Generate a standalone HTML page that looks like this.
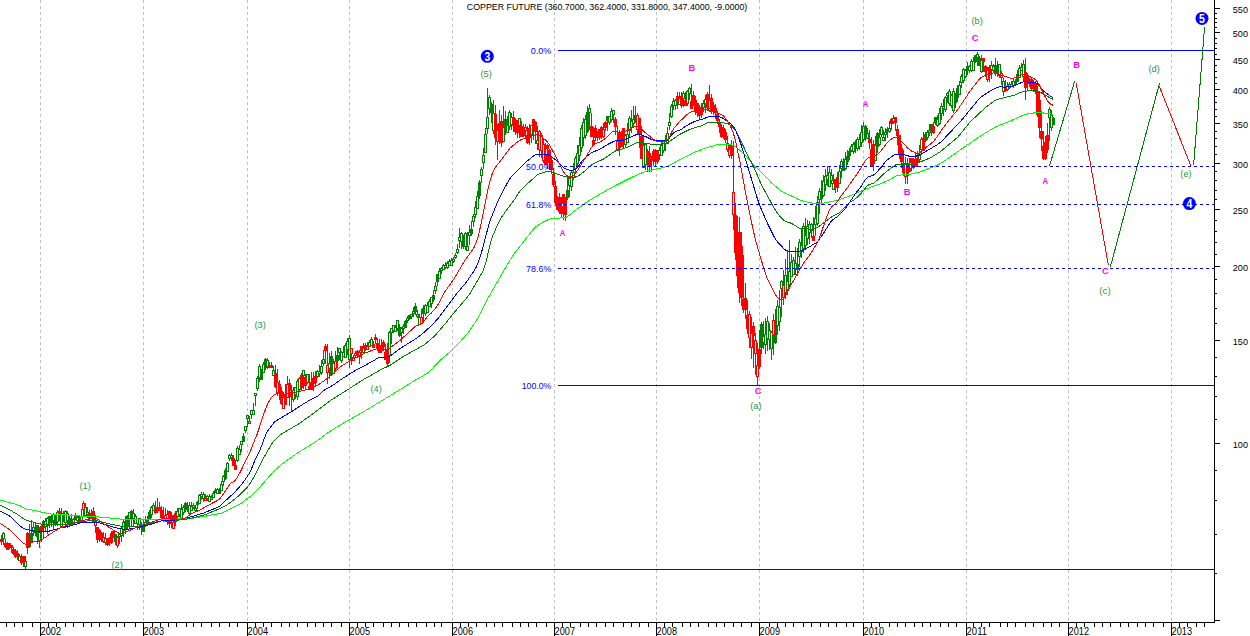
<!DOCTYPE html>
<html><head><meta charset="utf-8"><style>
html,body{margin:0;padding:0;background:#fff;width:1250px;height:636px;overflow:hidden}
svg{display:block}
text{font-family:"Liberation Sans",sans-serif}
</style></head><body>
<svg width="1250" height="636" viewBox="0 0 1250 636">
<rect width="1250" height="636" fill="#fff"/>

<path d="M40.5 0V622 M143.5 0V622 M247.5 0V622 M349.5 0V622 M452.5 0V622 M554.5 0V622 M656.5 0V622 M759.5 0V622 M863.5 0V622 M966.5 0V622 M1068.5 0V622 M1171.5 0V622" stroke="#c0c0c0" stroke-width="1" stroke-dasharray="3 3" fill="none" shape-rendering="crispEdges"/>
<g shape-rendering="crispEdges"><path d="M3.5 532V533M3.5 538V545M19.5 554V556M19.5 560V560M25.5 556V561M25.5 566V569M29.5 524V548M31.5 520V543M33.5 523V527M33.5 531V536M35.5 522V536M37.5 525V544M39.5 527V532M39.5 540V548M43.5 520V538M45.5 518V521M45.5 526V532M47.5 517V518M47.5 525V534M49.5 516V528M51.5 514V527M53.5 513V514M53.5 520V529M55.5 514V526M57.5 510V512M57.5 521V526M61.5 508V513M61.5 526V526M63.5 511V522M65.5 510V511M65.5 522V528M67.5 511V513M67.5 520V528M69.5 516V526M71.5 514V525M73.5 518V519M73.5 523V525M75.5 513V520M77.5 516V517M77.5 520V524M79.5 515V522M81.5 509V516M81.5 521V522M85.5 503V507M85.5 515V517M87.5 507V512M87.5 514V518M105.5 533V538M105.5 542V545M115.5 534V545M119.5 533V534M119.5 536V544M121.5 526V528M121.5 535V542M123.5 520V522M123.5 530V537M125.5 516V534M127.5 515V529M129.5 512V512M129.5 518V528M131.5 510V526M133.5 509V513M133.5 518V526M135.5 514V516M135.5 523V523M137.5 519V519M137.5 523V530M139.5 518V518M139.5 524V530M143.5 520V532M145.5 516V522M145.5 524V527M147.5 516V525M149.5 510V519M151.5 506V507M151.5 514V518M153.5 503V505M153.5 510V511M165.5 508V515M165.5 519V522M177.5 508V511M177.5 516V520M179.5 508V508M179.5 514V517M181.5 504V509M181.5 518V518M183.5 505V507M183.5 512V515M185.5 502V512M187.5 502V512M189.5 502V505M189.5 513V514M191.5 502V506M191.5 510V511M193.5 503V505M193.5 507V509M195.5 505V508M195.5 510V511M197.5 501V509M199.5 494V495M199.5 503V504M201.5 492V494M201.5 496V500M203.5 492V494M203.5 498V502M207.5 495V496M207.5 498V501M209.5 494V496M209.5 501V502M211.5 495V497M211.5 499V500M213.5 491V493M213.5 497V497M215.5 488V492M217.5 488V489M217.5 493V494M219.5 488V491M219.5 493V492M221.5 481V484M221.5 490V491M223.5 475V476M223.5 481V486M225.5 468V480M227.5 462V463M227.5 471V472M229.5 454V455M229.5 458V461M231.5 453V455M231.5 457V461M237.5 446V448M237.5 460V462M239.5 445V449M239.5 454V454M241.5 441V441M241.5 444V452M243.5 433V441M245.5 426V426M245.5 430V433M247.5 415V415M247.5 418V427M249.5 416V421M249.5 423V423M251.5 410V410M251.5 414V419M253.5 403V410M253.5 414V414M255.5 393V393M255.5 395V406M257.5 376V378M257.5 388V391M259.5 364V366M259.5 377V382M261.5 369V380M263.5 362V364M263.5 372V372M265.5 358V370M267.5 358V360M267.5 366V369M271.5 362V367M273.5 366V370M273.5 375V376M293.5 387V390M293.5 399V402M295.5 387V387M295.5 394V399M297.5 379V381M297.5 396V400M299.5 377V378M299.5 389V392M303.5 370V370M303.5 375V389M307.5 374V374M307.5 382V384M317.5 370V371M317.5 376V378M319.5 365V371M319.5 373V377M321.5 360V366M321.5 372V375M323.5 350V359M323.5 363V366M329.5 353V363M329.5 368V379M331.5 351V376M333.5 359V363M333.5 373V374M337.5 347V368M339.5 348V348M339.5 352V360M341.5 351V352M341.5 360V363M343.5 346V352M343.5 356V357M345.5 343V345M345.5 357V358M347.5 338V341M347.5 349V355M349.5 335V338M349.5 359V368M363.5 343V348M363.5 352V353M369.5 340V342M369.5 346V347M371.5 337V339M371.5 345V345M389.5 331V332M389.5 355V363M391.5 328V328M391.5 332V344M393.5 325V325M393.5 330V333M395.5 325V327M395.5 331V332M397.5 320V320M397.5 328V331M399.5 324V337M401.5 327V328M401.5 332V343M403.5 324V326M403.5 328V334M405.5 320V328M407.5 316V318M407.5 320V323M409.5 315V320M411.5 314V314M411.5 316V319M413.5 307V311M413.5 313V317M415.5 303V315M417.5 310V314M417.5 316V318M419.5 314V317M419.5 324V325M423.5 305V323M425.5 304V305M425.5 313V316M427.5 302V305M427.5 312V313M429.5 299V301M429.5 306V307M431.5 297V297M431.5 303V308M433.5 290V302M435.5 282V286M435.5 290V294M437.5 274V286M439.5 268V271M439.5 278V279M441.5 267V268M441.5 270V274M443.5 264V265M443.5 269V269M445.5 262V265M445.5 267V269M447.5 261V263M447.5 267V269M449.5 259V261M449.5 265V265M451.5 258V260M451.5 265V266M453.5 257V259M453.5 261V263M455.5 253V255M455.5 257V259M457.5 244V249M457.5 252V254M459.5 228V237M459.5 240V248M461.5 232V233M461.5 241V249M463.5 235V249M465.5 232V233M465.5 246V250M467.5 232V246M467.5 250V250M469.5 225V232M469.5 235V245M471.5 221V236M473.5 214V216M473.5 221V227M475.5 201V207M475.5 214V218M477.5 191V196M477.5 208V209M479.5 180V199M481.5 167V169M481.5 175V183M483.5 148V155M483.5 162V169M485.5 128V134M485.5 152V153M487.5 88V117M487.5 128V134M489.5 95V97M489.5 108V115M491.5 102V123M493.5 100V113M493.5 130V134M503.5 106V127M503.5 141V142M505.5 111V135M507.5 116V125M507.5 132V133M509.5 110V112M509.5 126V130M511.5 113V117M511.5 124V130M519.5 118V118M519.5 125V138M531.5 125V125M531.5 134V143M537.5 126V140M537.5 143V150M567.5 176V200M569.5 177V178M569.5 185V197M571.5 170V172M571.5 186V191M573.5 163V172M573.5 177V180M575.5 156V158M575.5 168V173M577.5 145V153M577.5 163V168M579.5 137V145M579.5 155V161M581.5 125V128M581.5 147V152M583.5 118V122M583.5 137V146M585.5 115V119M585.5 135V139M587.5 106V133M589.5 104V108M589.5 112V130M607.5 116V131M609.5 116V116M609.5 122V125M611.5 108V111M611.5 119V122M613.5 110V110M613.5 114V123M625.5 134V135M625.5 144V147M627.5 123V134M627.5 142V143M629.5 116V118M629.5 130V137M631.5 110V121M631.5 127V133M633.5 106V119M633.5 123V128M635.5 106V123M643.5 136V145M643.5 167V167M645.5 143V144M645.5 164V170M659.5 147V150M659.5 154V160M661.5 140V145M661.5 155V156M663.5 140V141M663.5 150V153M665.5 135V140M665.5 143V151M667.5 127V133M667.5 143V143M669.5 113V122M669.5 125V130M671.5 104V106M671.5 116V118M673.5 98V101M673.5 105V110M675.5 99V100M675.5 105V110M679.5 92V98M679.5 104V105M683.5 91V93M683.5 98V107M687.5 90V91M687.5 103V106M689.5 87V88M689.5 93V100M703.5 100V103M703.5 107V112M705.5 95V99M705.5 103V113M709.5 85V100M709.5 110V112M761.5 322V354M763.5 321V336M763.5 342V349M765.5 318V334M765.5 344V354M767.5 316V321M767.5 338V351M769.5 323V330M769.5 339V350M771.5 331V332M771.5 348V360M775.5 309V344M777.5 300V306M777.5 325V335M779.5 290V307M779.5 321V331M781.5 280V281M781.5 288V317M785.5 259V275M785.5 292V299M787.5 250V281M787.5 289V295M789.5 240V271M789.5 284V287M791.5 254V262M791.5 276V277M793.5 257V260M793.5 274V275M795.5 247V263M795.5 268V275M797.5 248V276M799.5 239V242M799.5 256V267M801.5 229V245M801.5 251V258M803.5 223V226M803.5 248V253M805.5 218V235M805.5 245V249M807.5 220V226M807.5 238V245M809.5 221V224M809.5 232V244M811.5 223V224M811.5 230V238M815.5 206V218M815.5 224V236M817.5 196V202M817.5 223V226M819.5 188V191M819.5 199V214M821.5 180V205M823.5 175V181M823.5 195V197M825.5 169V176M825.5 184V191M827.5 166V175M827.5 179V186M829.5 166V172M829.5 186V186M831.5 169V175M831.5 180V184M833.5 174V183M833.5 189V190M839.5 165V171M839.5 183V184M841.5 159V161M841.5 168V178M843.5 158V171M845.5 152V159M845.5 168V170M847.5 150V165M849.5 148V160M851.5 144V146M851.5 150V152M853.5 142V144M853.5 151V154M855.5 140V153M857.5 137V139M857.5 148V151M859.5 134V139M859.5 146V150M861.5 125V132M861.5 142V147M863.5 122V126M863.5 139V142M865.5 125V141M867.5 128V133M867.5 138V139M875.5 136V145M875.5 160V161M877.5 132V153M879.5 129V137M879.5 144V146M881.5 126V127M881.5 134V137M883.5 130V137M883.5 140V141M885.5 128V132M885.5 134V141M887.5 127V138M889.5 121V128M889.5 131V133M893.5 115V118M893.5 121V124M919.5 145V154M919.5 159V163M921.5 137V139M921.5 149V155M925.5 132V142M927.5 130V132M927.5 137V140M929.5 124V130M929.5 132V136M931.5 124V136M935.5 117V125M937.5 115V119M937.5 125V127M939.5 108V113M939.5 123V125M941.5 103V106M941.5 113V120M943.5 99V106M943.5 108V116M945.5 96V97M945.5 109V112M947.5 92V93M947.5 95V103M949.5 89V91M949.5 103V106M951.5 94V95M951.5 105V108M953.5 88V91M953.5 110V113M955.5 93V108M957.5 85V102M959.5 81V85M959.5 94V95M961.5 74V76M961.5 82V88M963.5 68V69M963.5 80V83M965.5 69V70M965.5 76V78M967.5 62V75M969.5 65V66M969.5 70V73M971.5 59V61M971.5 70V72M973.5 57V61M973.5 70V70M975.5 55V63M977.5 52V54M977.5 57V66M979.5 56V65M981.5 55V60M981.5 71V73M991.5 61V65M991.5 69V79M993.5 64V66M993.5 70V73M995.5 58V76M997.5 61V77M999.5 64V64M999.5 75V78M1003.5 78V81M1003.5 91V96M1007.5 82V86M1007.5 89V91M1009.5 82V84M1009.5 87V89M1011.5 81V84M1011.5 86V87M1013.5 79V81M1013.5 85V88M1015.5 79V86M1017.5 70V82M1019.5 65V68M1019.5 77V78M1021.5 63V67M1021.5 70V71M1023.5 60V64M1023.5 76V81M1049.5 107V109M1049.5 117V141M1051.5 110V115M1051.5 127V131M1053.5 117V124M2.5 533.5h2v5h-2zM18.5 556.5h2v4h-2zM24.5 561.5h2v5h-2zM32.5 527.5h2v4h-2zM38.5 532.5h2v8h-2zM44.5 521.5h2v5h-2zM46.5 518.5h2v7h-2zM52.5 514.5h2v6h-2zM56.5 512.5h2v9h-2zM60.5 513.5h2v13h-2zM64.5 511.5h2v11h-2zM66.5 513.5h2v7h-2zM72.5 519.5h2v4h-2zM76.5 517.5h2v3h-2zM80.5 516.5h2v5h-2zM84.5 507.5h2v8h-2zM86.5 512.5h2v2h-2zM104.5 538.5h2v4h-2zM118.5 534.5h2v2h-2zM120.5 528.5h2v7h-2zM122.5 522.5h2v8h-2zM128.5 512.5h2v6h-2zM132.5 513.5h2v5h-2zM134.5 516.5h2v7h-2zM136.5 519.5h2v4h-2zM138.5 518.5h2v6h-2zM144.5 522.5h2v2h-2zM150.5 507.5h2v7h-2zM152.5 505.5h2v5h-2zM164.5 515.5h2v4h-2zM176.5 511.5h2v5h-2zM178.5 508.5h2v6h-2zM180.5 509.5h2v9h-2zM182.5 507.5h2v5h-2zM188.5 505.5h2v8h-2zM190.5 506.5h2v4h-2zM192.5 505.5h2v2h-2zM194.5 508.5h2v2h-2zM198.5 495.5h2v8h-2zM200.5 494.5h2v2h-2zM202.5 494.5h2v4h-2zM206.5 496.5h2v2h-2zM208.5 496.5h2v5h-2zM210.5 497.5h2v2h-2zM212.5 493.5h2v4h-2zM216.5 489.5h2v4h-2zM218.5 491.5h2v2h-2zM220.5 484.5h2v6h-2zM222.5 476.5h2v5h-2zM226.5 463.5h2v8h-2zM228.5 455.5h2v3h-2zM230.5 455.5h2v2h-2zM236.5 448.5h2v12h-2zM238.5 449.5h2v5h-2zM240.5 441.5h2v3h-2zM244.5 426.5h2v4h-2zM246.5 415.5h2v3h-2zM248.5 421.5h2v2h-2zM250.5 410.5h2v4h-2zM252.5 410.5h2v4h-2zM254.5 393.5h2v2h-2zM256.5 378.5h2v10h-2zM258.5 366.5h2v11h-2zM262.5 364.5h2v8h-2zM266.5 360.5h2v6h-2zM272.5 370.5h2v5h-2zM292.5 390.5h2v9h-2zM294.5 387.5h2v7h-2zM296.5 381.5h2v15h-2zM298.5 378.5h2v11h-2zM302.5 370.5h2v5h-2zM306.5 374.5h2v8h-2zM316.5 371.5h2v5h-2zM318.5 371.5h2v2h-2zM320.5 366.5h2v6h-2zM322.5 359.5h2v4h-2zM328.5 363.5h2v5h-2zM332.5 363.5h2v10h-2zM338.5 348.5h2v4h-2zM340.5 352.5h2v8h-2zM342.5 352.5h2v4h-2zM344.5 345.5h2v12h-2zM346.5 341.5h2v8h-2zM348.5 338.5h2v21h-2zM362.5 348.5h2v4h-2zM368.5 342.5h2v4h-2zM370.5 339.5h2v6h-2zM388.5 332.5h2v23h-2zM390.5 328.5h2v4h-2zM392.5 325.5h2v5h-2zM394.5 327.5h2v4h-2zM396.5 320.5h2v8h-2zM400.5 328.5h2v4h-2zM402.5 326.5h2v2h-2zM406.5 318.5h2v2h-2zM410.5 314.5h2v2h-2zM412.5 311.5h2v2h-2zM416.5 314.5h2v2h-2zM418.5 317.5h2v7h-2zM424.5 305.5h2v8h-2zM426.5 305.5h2v7h-2zM428.5 301.5h2v5h-2zM430.5 297.5h2v6h-2zM434.5 286.5h2v4h-2zM438.5 271.5h2v7h-2zM440.5 268.5h2v2h-2zM442.5 265.5h2v4h-2zM444.5 265.5h2v2h-2zM446.5 263.5h2v4h-2zM448.5 261.5h2v4h-2zM450.5 260.5h2v5h-2zM452.5 259.5h2v2h-2zM454.5 255.5h2v2h-2zM456.5 249.5h2v3h-2zM458.5 237.5h2v3h-2zM460.5 233.5h2v8h-2zM464.5 233.5h2v13h-2zM466.5 246.5h2v4h-2zM468.5 232.5h2v3h-2zM472.5 216.5h2v5h-2zM474.5 207.5h2v7h-2zM476.5 196.5h2v12h-2zM480.5 169.5h2v6h-2zM482.5 155.5h2v7h-2zM484.5 134.5h2v18h-2zM486.5 117.5h2v11h-2zM488.5 97.5h2v11h-2zM492.5 113.5h2v17h-2zM502.5 127.5h2v14h-2zM506.5 125.5h2v7h-2zM508.5 112.5h2v14h-2zM510.5 117.5h2v7h-2zM518.5 118.5h2v7h-2zM530.5 125.5h2v9h-2zM536.5 140.5h2v3h-2zM568.5 178.5h2v7h-2zM570.5 172.5h2v14h-2zM572.5 172.5h2v5h-2zM574.5 158.5h2v10h-2zM576.5 153.5h2v10h-2zM578.5 145.5h2v10h-2zM580.5 128.5h2v19h-2zM582.5 122.5h2v15h-2zM584.5 119.5h2v16h-2zM588.5 108.5h2v4h-2zM608.5 116.5h2v6h-2zM610.5 111.5h2v8h-2zM612.5 110.5h2v4h-2zM624.5 135.5h2v9h-2zM626.5 134.5h2v8h-2zM628.5 118.5h2v12h-2zM630.5 121.5h2v6h-2zM632.5 119.5h2v4h-2zM642.5 145.5h2v22h-2zM644.5 144.5h2v20h-2zM658.5 150.5h2v4h-2zM660.5 145.5h2v10h-2zM662.5 141.5h2v9h-2zM664.5 140.5h2v3h-2zM666.5 133.5h2v10h-2zM668.5 122.5h2v3h-2zM670.5 106.5h2v10h-2zM672.5 101.5h2v4h-2zM674.5 100.5h2v5h-2zM678.5 98.5h2v6h-2zM682.5 93.5h2v5h-2zM686.5 91.5h2v12h-2zM688.5 88.5h2v5h-2zM702.5 103.5h2v4h-2zM704.5 99.5h2v4h-2zM708.5 100.5h2v10h-2zM762.5 336.5h2v6h-2zM764.5 334.5h2v10h-2zM766.5 321.5h2v17h-2zM768.5 330.5h2v9h-2zM770.5 332.5h2v16h-2zM776.5 306.5h2v19h-2zM778.5 307.5h2v14h-2zM780.5 281.5h2v7h-2zM784.5 275.5h2v17h-2zM786.5 281.5h2v8h-2zM788.5 271.5h2v13h-2zM790.5 262.5h2v14h-2zM792.5 260.5h2v14h-2zM794.5 263.5h2v5h-2zM798.5 242.5h2v14h-2zM800.5 245.5h2v6h-2zM802.5 226.5h2v22h-2zM804.5 235.5h2v10h-2zM806.5 226.5h2v12h-2zM808.5 224.5h2v8h-2zM810.5 224.5h2v6h-2zM814.5 218.5h2v6h-2zM816.5 202.5h2v21h-2zM818.5 191.5h2v8h-2zM822.5 181.5h2v14h-2zM824.5 176.5h2v8h-2zM826.5 175.5h2v4h-2zM828.5 172.5h2v14h-2zM830.5 175.5h2v5h-2zM832.5 183.5h2v6h-2zM838.5 171.5h2v12h-2zM840.5 161.5h2v7h-2zM844.5 159.5h2v9h-2zM850.5 146.5h2v4h-2zM852.5 144.5h2v7h-2zM856.5 139.5h2v9h-2zM858.5 139.5h2v7h-2zM860.5 132.5h2v10h-2zM862.5 126.5h2v13h-2zM866.5 133.5h2v5h-2zM874.5 145.5h2v15h-2zM878.5 137.5h2v7h-2zM880.5 127.5h2v7h-2zM882.5 137.5h2v3h-2zM884.5 132.5h2v2h-2zM888.5 128.5h2v3h-2zM892.5 118.5h2v3h-2zM918.5 154.5h2v5h-2zM920.5 139.5h2v10h-2zM926.5 132.5h2v5h-2zM928.5 130.5h2v2h-2zM936.5 119.5h2v6h-2zM938.5 113.5h2v10h-2zM940.5 106.5h2v7h-2zM942.5 106.5h2v2h-2zM944.5 97.5h2v12h-2zM946.5 93.5h2v2h-2zM948.5 91.5h2v12h-2zM950.5 95.5h2v10h-2zM952.5 91.5h2v19h-2zM958.5 85.5h2v9h-2zM960.5 76.5h2v6h-2zM962.5 69.5h2v11h-2zM964.5 70.5h2v6h-2zM968.5 66.5h2v4h-2zM970.5 61.5h2v9h-2zM972.5 61.5h2v9h-2zM976.5 54.5h2v3h-2zM980.5 60.5h2v11h-2zM990.5 65.5h2v4h-2zM992.5 66.5h2v4h-2zM998.5 64.5h2v11h-2zM1002.5 81.5h2v10h-2zM1006.5 86.5h2v3h-2zM1008.5 84.5h2v3h-2zM1010.5 84.5h2v2h-2zM1012.5 81.5h2v4h-2zM1018.5 68.5h2v9h-2zM1020.5 67.5h2v3h-2zM1022.5 64.5h2v12h-2zM1048.5 109.5h2v8h-2zM1050.5 115.5h2v12h-2z" stroke="#008000" stroke-width="1" fill="none"/>
<path d="M28 535h3v12h-3zM30 533h3v9h-3zM34 527h3v6h-3zM36 525h3v12h-3zM42 521h3v7h-3zM48 516h3v4h-3zM50 520h3v3h-3zM54 521h3v4h-3zM62 516h3v4h-3zM68 518h3v5h-3zM70 521h3v4h-3zM74 515h3v5h-3zM78 516h3v3h-3zM114 534h3v8h-3zM124 521h3v9h-3zM126 516h3v11h-3zM130 511h3v5h-3zM142 524h3v8h-3zM146 519h3v6h-3zM148 512h3v7h-3zM184 503h3v7h-3zM186 505h3v3h-3zM196 502h3v3h-3zM214 490h3v3h-3zM224 470h3v9h-3zM242 436h3v6h-3zM260 371h3v9h-3zM264 359h3v9h-3zM270 365h3v3h-3zM330 356h3v19h-3zM336 355h3v6h-3zM398 327h3v9h-3zM404 321h3v7h-3zM408 315h3v4h-3zM414 306h3v6h-3zM422 308h3v6h-3zM432 295h3v5h-3zM436 274h3v8h-3zM462 240h3v7h-3zM470 229h3v5h-3zM478 182h3v14h-3zM490 104h3v9h-3zM504 119h3v13h-3zM566 190h3v8h-3zM586 112h3v20h-3zM606 116h3v5h-3zM634 115h3v7h-3zM760 324h3v24h-3zM774 321h3v22h-3zM796 264h3v6h-3zM820 192h3v7h-3zM842 161h3v10h-3zM846 156h3v6h-3zM848 151h3v5h-3zM854 142h3v4h-3zM864 126h3v10h-3zM876 133h3v14h-3zM886 129h3v3h-3zM924 134h3v7h-3zM930 124h3v6h-3zM934 117h3v6h-3zM954 96h3v7h-3zM956 88h3v10h-3zM966 66h3v5h-3zM974 55h3v7h-3zM978 58h3v8h-3zM994 65h3v9h-3zM996 65h3v7h-3zM1014 81h3v4h-3zM1016 74h3v8h-3zM1052 118h3v7h-3z" fill="#008000"/>
<path d="M1.5 535V545M5.5 539V548M7.5 542V550M9.5 543V549M11.5 545V553M13.5 547V555M15.5 549V558M17.5 550V560M21.5 554V565M23.5 556V567M27.5 532V554M41.5 524V542M59.5 508V521M83.5 501V503M83.5 509V516M89.5 510V519M91.5 509V519M93.5 507V522M95.5 515V521M95.5 525V533M97.5 527V543M99.5 529V542M101.5 532V542M103.5 532V537M103.5 541V543M107.5 538V546M109.5 537V546M111.5 531V544M113.5 530V538M117.5 536V537M117.5 545V548M141.5 522V535M155.5 501V514M157.5 498V513M159.5 502V511M161.5 506V519M163.5 507V522M167.5 510V514M167.5 521V525M169.5 511V528M171.5 512V528M173.5 515V522M173.5 528V528M175.5 511V526M205.5 494V498M205.5 500V500M233.5 455V466M235.5 460V470M269.5 362V368M275.5 365V388M277.5 369V382M277.5 392V396M279.5 380V400M281.5 387V405M283.5 392V397M283.5 408V408M285.5 384V404M287.5 376V384M287.5 397V397M289.5 379V406M291.5 385V411M301.5 373V391M305.5 374V390M309.5 374V390M311.5 372V390M313.5 372V391M315.5 371V387M325.5 344V364M327.5 344V365M327.5 372V384M335.5 351V361M335.5 368V371M351.5 348V348M351.5 353V365M353.5 355V357M353.5 360V360M355.5 351V353M355.5 355V358M357.5 350V358M359.5 350V352M359.5 356V364M361.5 346V359M365.5 343V351M367.5 342V346M367.5 349V349M373.5 341V348M375.5 334V344M377.5 338V351M379.5 339V352M381.5 339V353M383.5 340V351M385.5 344V360M387.5 343V367M421.5 309V317M421.5 323V324M495.5 105V145M497.5 124V130M497.5 141V160M499.5 110V144M501.5 115V147M513.5 111V132M515.5 118V135M517.5 120V138M521.5 121V137M523.5 124V137M525.5 124V127M525.5 130V139M527.5 126V144M529.5 124V145M533.5 119V140M535.5 121V144M539.5 130V131M539.5 149V157M541.5 133V135M541.5 150V158M543.5 138V144M543.5 160V163M545.5 143V165M547.5 144V169M549.5 149V170M551.5 157V174M553.5 168V187M555.5 181V206M557.5 196V210M559.5 193V214M561.5 197V217M563.5 194V220M565.5 197V221M591.5 113V137M593.5 127V145M595.5 125V141M597.5 131V141M599.5 129V140M601.5 126V139M603.5 123V129M603.5 136V138M605.5 121V131M615.5 117V135M617.5 126V141M617.5 149V151M619.5 130V156M621.5 131V146M623.5 128V148M637.5 113V115M637.5 129V134M639.5 118V148M641.5 126V159M647.5 149V172M649.5 146V172M651.5 156V172M653.5 149V166M655.5 149V167M657.5 150V164M677.5 92V109M681.5 92V108M685.5 92V106M691.5 84V109M693.5 91V106M695.5 96V115M697.5 103V117M699.5 105V119M701.5 103V118M707.5 92V111M711.5 94V114M713.5 102V115M715.5 104V119M717.5 111V124M719.5 119V133M721.5 124V138M723.5 125V139M725.5 129V143M727.5 136V143M727.5 149V152M729.5 145V149M729.5 155V158M731.5 140V159M733.5 141V192M733.5 214V230M735.5 203V260M737.5 216V288M739.5 217V303M741.5 232V306M743.5 255V313M745.5 283V319M747.5 300V334M749.5 311V314M749.5 337V348M751.5 317V333M751.5 347V359M753.5 322V368M755.5 333V340M755.5 353V375M757.5 343V365M757.5 376V385M759.5 330V369M773.5 314V320M773.5 334V355M783.5 270V285M783.5 297V305M813.5 217V240M835.5 179V193M837.5 172V192M869.5 130V149M871.5 137V167M873.5 140V171M891.5 118V130M895.5 117V131M897.5 125V145M899.5 135V159M901.5 144V168M903.5 150V176M905.5 157V163M905.5 176V184M907.5 158V184M909.5 158V172M911.5 158V171M913.5 158V169M915.5 152V166M917.5 151V167M923.5 132V150M933.5 122V134M983.5 58V72M985.5 65V77M987.5 67V70M987.5 79V82M989.5 65V82M1001.5 71V73M1001.5 77V85M1005.5 80V92M1025.5 58V100M1027.5 73V91M1029.5 78V87M1031.5 78V91M1033.5 80V92M1035.5 81V94M1037.5 86V117M1039.5 93V138M1041.5 111V151M1043.5 131V160M1045.5 136V160M1047.5 123V153M82.5 503.5h2v6h-2zM94.5 521.5h2v4h-2zM102.5 537.5h2v4h-2zM116.5 537.5h2v8h-2zM166.5 514.5h2v7h-2zM172.5 522.5h2v6h-2zM204.5 498.5h2v2h-2zM276.5 382.5h2v10h-2zM282.5 397.5h2v11h-2zM286.5 384.5h2v13h-2zM326.5 365.5h2v7h-2zM334.5 361.5h2v7h-2zM350.5 348.5h2v5h-2zM352.5 357.5h2v3h-2zM354.5 353.5h2v2h-2zM358.5 352.5h2v4h-2zM366.5 346.5h2v3h-2zM420.5 317.5h2v6h-2zM496.5 130.5h2v11h-2zM524.5 127.5h2v3h-2zM538.5 131.5h2v18h-2zM540.5 135.5h2v15h-2zM542.5 144.5h2v16h-2zM602.5 129.5h2v7h-2zM616.5 141.5h2v8h-2zM636.5 115.5h2v14h-2zM726.5 143.5h2v6h-2zM728.5 149.5h2v6h-2zM732.5 192.5h2v22h-2zM748.5 314.5h2v23h-2zM750.5 333.5h2v14h-2zM754.5 340.5h2v13h-2zM756.5 365.5h2v11h-2zM772.5 320.5h2v14h-2zM782.5 285.5h2v12h-2zM904.5 163.5h2v13h-2zM986.5 70.5h2v9h-2zM1000.5 73.5h2v4h-2z" stroke="#ff0000" fill="none"/><path d="M0 539h3v3h-3zM4 543h3v4h-3zM6 547h3v3h-3zM8 543h3v5h-3zM10 545h3v3h-3zM12 549h3v5h-3zM14 551h3v6h-3zM16 553h3v3h-3zM20 557h3v6h-3zM22 556h3v7h-3zM26 533h3v15h-3zM40 526h3v6h-3zM58 511h3v4h-3zM88 514h3v5h-3zM90 513h3v6h-3zM92 511h3v11h-3zM96 527h3v13h-3zM98 530h3v10h-3zM100 533h3v7h-3zM106 538h3v7h-3zM108 540h3v3h-3zM110 533h3v10h-3zM112 531h3v4h-3zM140 525h3v3h-3zM154 510h3v3h-3zM156 507h3v4h-3zM158 507h3v3h-3zM160 510h3v8h-3zM162 515h3v5h-3zM168 511h3v13h-3zM170 515h3v6h-3zM174 513h3v9h-3zM232 458h3v8h-3zM234 465h3v5h-3zM268 365h3v3h-3zM274 373h3v14h-3zM278 384h3v10h-3zM280 391h3v13h-3zM284 394h3v11h-3zM288 383h3v8h-3zM290 392h3v5h-3zM300 375h3v13h-3zM304 377h3v9h-3zM308 386h3v4h-3zM310 382h3v8h-3zM312 378h3v6h-3zM314 376h3v7h-3zM324 346h3v5h-3zM356 351h3v5h-3zM360 346h3v5h-3zM364 345h3v5h-3zM372 344h3v4h-3zM374 337h3v3h-3zM376 343h3v5h-3zM378 345h3v8h-3zM380 346h3v5h-3zM382 342h3v5h-3zM384 352h3v8h-3zM386 349h3v15h-3zM494 114h3v24h-3zM498 123h3v9h-3zM500 121h3v22h-3zM512 117h3v9h-3zM514 120h3v12h-3zM516 120h3v13h-3zM520 126h3v11h-3zM522 128h3v8h-3zM526 135h3v8h-3zM528 128h3v10h-3zM532 119h3v10h-3zM534 122h3v10h-3zM544 155h3v10h-3zM546 145h3v4h-3zM548 150h3v13h-3zM550 160h3v10h-3zM552 174h3v11h-3zM554 186h3v17h-3zM556 201h3v9h-3zM558 197h3v15h-3zM560 206h3v8h-3zM562 194h3v10h-3zM564 197h3v18h-3zM590 126h3v11h-3zM592 140h3v5h-3zM594 128h3v10h-3zM596 131h3v4h-3zM598 129h3v9h-3zM600 127h3v4h-3zM604 122h3v6h-3zM614 119h3v8h-3zM618 132h3v16h-3zM620 140h3v7h-3zM622 128h3v15h-3zM638 118h3v17h-3zM640 136h3v23h-3zM646 151h3v5h-3zM648 153h3v14h-3zM650 158h3v3h-3zM652 151h3v7h-3zM654 150h3v12h-3zM656 152h3v10h-3zM676 96h3v5h-3zM680 96h3v10h-3zM684 100h3v6h-3zM690 101h3v8h-3zM692 95h3v9h-3zM694 100h3v12h-3zM696 103h3v10h-3zM698 108h3v8h-3zM700 107h3v8h-3zM706 94h3v14h-3zM710 98h3v14h-3zM712 105h3v6h-3zM714 108h3v5h-3zM716 114h3v7h-3zM718 122h3v5h-3zM720 127h3v10h-3zM722 128h3v5h-3zM724 132h3v8h-3zM730 145h3v11h-3zM734 215h3v38h-3zM736 250h3v26h-3zM738 232h3v61h-3zM740 246h3v52h-3zM742 299h3v11h-3zM744 298h3v12h-3zM746 315h3v14h-3zM752 326h3v10h-3zM758 349h3v18h-3zM812 236h3v5h-3zM834 179h3v9h-3zM836 177h3v11h-3zM868 139h3v4h-3zM870 149h3v17h-3zM872 144h3v20h-3zM890 119h3v5h-3zM894 117h3v6h-3zM896 129h3v7h-3zM898 135h3v19h-3zM900 148h3v14h-3zM902 163h3v10h-3zM906 163h3v13h-3zM908 168h3v4h-3zM910 158h3v5h-3zM912 159h3v9h-3zM914 159h3v8h-3zM916 158h3v4h-3zM922 138h3v13h-3zM932 126h3v7h-3zM982 58h3v4h-3zM984 66h3v6h-3zM988 67h3v8h-3zM1004 88h3v3h-3zM1024 72h3v16h-3zM1026 76h3v4h-3zM1028 80h3v4h-3zM1030 79h3v10h-3zM1032 84h3v4h-3zM1034 83h3v9h-3zM1036 92h3v23h-3zM1038 100h3v28h-3zM1040 131h3v8h-3zM1042 146h3v13h-3zM1044 142h3v17h-3zM1046 135h3v15h-3z" fill="#ff0000"/></g>
<path d="M0.0 500.0 L1.0 500.4 L2.0 500.6 L3.0 500.8 L4.0 501.1 L5.0 501.4 L6.0 501.6 L7.0 501.9 L8.0 502.2 L9.0 502.5 L10.0 502.8 L11.0 503.0 L12.0 503.3 L13.0 503.6 L14.0 503.9 L15.0 504.1 L16.0 504.4 L17.0 504.7 L18.0 504.9 L19.0 505.3 L20.0 505.7 L21.0 506.2 L22.0 506.8 L23.0 507.4 L24.0 508.1 L25.0 508.6 L26.0 509.1 L27.0 509.4 L28.0 509.6 L29.0 509.7 L30.0 509.8 L31.0 509.9 L32.0 510.0 L33.0 510.1 L34.0 510.3 L35.0 510.5 L36.0 510.7 L37.0 511.0 L38.0 511.3 L39.0 511.5 L40.0 511.8 L41.0 512.0 L42.0 512.2 L43.0 512.4 L44.0 512.6 L45.0 512.8 L46.0 513.0 L47.0 513.2 L48.0 513.4 L49.0 513.6 L50.0 513.8 L51.0 514.0 L52.0 514.1 L53.0 514.2 L54.0 514.3 L55.0 514.3 L56.0 514.4 L57.0 514.4 L58.0 514.5 L59.0 514.5 L60.0 514.5 L61.0 514.6 L62.0 514.6 L63.0 514.7 L64.0 514.7 L65.0 514.8 L66.0 514.8 L67.0 514.9 L68.0 515.0 L69.0 515.1 L70.0 515.1 L71.0 515.2 L72.0 515.3 L73.0 515.4 L74.0 515.5 L75.0 515.6 L76.0 515.7 L77.0 515.7 L78.0 515.8 L79.0 515.9 L80.0 516.0 L81.0 516.0 L82.0 516.1 L83.0 516.1 L84.0 516.2 L85.0 516.2 L86.0 516.3 L87.0 516.4 L88.0 516.4 L89.0 516.5 L90.0 516.5 L91.0 516.5 L92.0 516.6 L93.0 516.6 L94.0 516.7 L95.0 516.8 L96.0 516.8 L97.0 516.9 L98.0 516.9 L99.0 517.0 L100.0 517.0 L101.0 517.1 L102.0 517.2 L103.0 517.3 L104.0 517.4 L105.0 517.5 L106.0 517.6 L107.0 517.7 L108.0 517.8 L109.0 517.9 L110.0 518.0 L111.0 518.1 L112.0 518.2 L113.0 518.3 L114.0 518.4 L115.0 518.5 L116.0 518.6 L117.0 518.7 L118.0 518.8 L119.0 518.9 L120.0 519.0 L121.0 519.0 L122.0 519.1 L123.0 519.1 L124.0 519.2 L125.0 519.2 L126.0 519.3 L127.0 519.4 L128.0 519.4 L129.0 519.5 L130.0 519.5 L131.0 519.5 L132.0 519.6 L133.0 519.6 L134.0 519.7 L135.0 519.8 L136.0 519.8 L137.0 519.9 L138.0 519.9 L139.0 519.9 L140.0 519.9 L141.0 519.9 L142.0 519.9 L143.0 519.9 L144.0 519.8 L145.0 519.8 L146.0 519.7 L147.0 519.6 L148.0 519.6 L149.0 519.5 L150.0 519.5 L151.0 519.5 L152.0 519.4 L153.0 519.4 L154.0 519.3 L155.0 519.2 L156.0 519.2 L157.0 519.1 L158.0 519.1 L159.0 519.1 L160.0 519.0 L161.0 519.0 L162.0 519.0 L163.0 519.0 L164.0 519.0 L165.0 519.0 L166.0 519.0 L167.0 519.0 L168.0 519.0 L169.0 519.0 L170.0 519.0 L171.0 519.0 L172.0 519.0 L173.0 519.0 L174.0 519.0 L175.0 519.0 L176.0 519.0 L177.0 519.0 L178.0 518.9 L179.0 518.9 L180.0 518.9 L181.0 518.8 L182.0 518.8 L183.0 518.8 L184.0 518.7 L185.0 518.7 L186.0 518.6 L187.0 518.6 L188.0 518.6 L189.0 518.5 L190.0 518.4 L191.0 518.3 L192.0 518.2 L193.0 518.1 L194.0 517.9 L195.0 517.8 L196.0 517.6 L197.0 517.5 L198.0 517.3 L199.0 517.2 L200.0 517.0 L201.0 516.9 L202.0 516.7 L203.0 516.6 L204.0 516.4 L205.0 516.2 L206.0 516.1 L207.0 515.9 L208.0 515.7 L209.0 515.5 L210.0 515.3 L211.0 515.1 L212.0 514.9 L213.0 514.7 L214.0 514.5 L215.0 514.3 L216.0 514.1 L217.0 514.0 L218.0 513.8 L219.0 513.6 L220.0 513.4 L221.0 513.2 L222.0 512.9 L223.0 512.5 L224.0 512.1 L225.0 511.6 L226.0 511.1 L227.0 510.6 L228.0 510.1 L229.0 509.6 L230.0 509.1 L231.0 508.6 L232.0 508.1 L233.0 507.6 L234.0 507.1 L235.0 506.6 L236.0 506.1 L237.0 505.6 L238.0 505.1 L239.0 504.6 L240.0 504.1 L241.0 503.4 L242.0 502.7 L243.0 501.9 L244.0 501.0 L245.0 500.1 L246.0 499.4 L247.0 498.7 L248.0 498.0 L249.0 497.4 L250.0 496.7 L251.0 495.9 L252.0 495.0 L253.0 494.0 L254.0 493.0 L255.0 492.0 L256.0 491.0 L257.0 490.0 L258.0 489.0 L259.0 488.0 L260.0 486.9 L261.0 485.8 L262.0 484.7 L263.0 483.6 L264.0 482.4 L265.0 481.3 L266.0 480.2 L267.0 479.0 L268.0 477.9 L269.0 476.7 L270.0 475.6 L271.0 474.4 L272.0 473.3 L273.0 472.2 L274.0 471.1 L275.0 470.1 L276.0 469.1 L277.0 468.3 L278.0 467.4 L279.0 466.6 L280.0 465.8 L281.0 465.0 L282.0 464.1 L283.0 463.3 L284.0 462.6 L285.0 461.8 L286.0 461.1 L287.0 460.4 L288.0 459.7 L289.0 459.0 L290.0 458.3 L291.0 457.6 L292.0 456.9 L293.0 456.2 L294.0 455.5 L295.0 454.8 L296.0 454.1 L297.0 453.4 L298.0 452.7 L299.0 452.1 L300.0 451.4 L301.0 450.8 L302.0 450.2 L303.0 449.6 L304.0 449.0 L305.0 448.4 L306.0 447.7 L307.0 447.1 L308.0 446.5 L309.0 445.9 L310.0 445.3 L311.0 444.7 L312.0 444.1 L313.0 443.5 L314.0 442.9 L315.0 442.2 L316.0 441.5 L317.0 440.8 L318.0 440.1 L319.0 439.3 L320.0 438.6 L321.0 437.8 L322.0 437.1 L323.0 436.3 L324.0 435.6 L325.0 434.8 L326.0 434.1 L327.0 433.4 L328.0 432.7 L329.0 432.0 L330.0 431.4 L331.0 430.7 L332.0 430.1 L333.0 429.5 L334.0 428.8 L335.0 428.2 L336.0 427.5 L337.0 426.9 L338.0 426.3 L339.0 425.7 L340.0 425.0 L341.0 424.5 L342.0 423.9 L343.0 423.3 L344.0 422.8 L345.0 422.2 L346.0 421.6 L347.0 421.1 L348.0 420.5 L349.0 420.0 L350.0 419.4 L351.0 418.8 L352.0 418.3 L353.0 417.7 L354.0 417.1 L355.0 416.6 L356.0 416.0 L357.0 415.5 L358.0 414.9 L359.0 414.3 L360.0 413.8 L361.0 413.2 L362.0 412.6 L363.0 412.0 L364.0 411.4 L365.0 410.8 L366.0 410.2 L367.0 409.6 L368.0 409.0 L369.0 408.4 L370.0 407.8 L371.0 407.2 L372.0 406.6 L373.0 406.0 L374.0 405.4 L375.0 404.8 L376.0 404.2 L377.0 403.6 L378.0 403.0 L379.0 402.4 L380.0 401.8 L381.0 401.2 L382.0 400.6 L383.0 400.0 L384.0 399.4 L385.0 398.8 L386.0 398.2 L387.0 397.6 L388.0 397.0 L389.0 396.4 L390.0 395.8 L391.0 395.2 L392.0 394.6 L393.0 394.0 L394.0 393.3 L395.0 392.7 L396.0 392.1 L397.0 391.5 L398.0 390.9 L399.0 390.2 L400.0 389.6 L401.0 389.0 L402.0 388.4 L403.0 387.8 L404.0 387.1 L405.0 386.5 L406.0 385.9 L407.0 385.3 L408.0 384.7 L409.0 384.0 L410.0 383.4 L411.0 382.8 L412.0 382.2 L413.0 381.6 L414.0 380.9 L415.0 380.3 L416.0 379.7 L417.0 379.2 L418.0 378.6 L419.0 378.0 L420.0 377.5 L421.0 376.9 L422.0 376.4 L423.0 375.8 L424.0 375.2 L425.0 374.7 L426.0 374.1 L427.0 373.5 L428.0 372.7 L429.0 371.9 L430.0 370.9 L431.0 369.9 L432.0 368.8 L433.0 367.8 L434.0 366.7 L435.0 365.6 L436.0 364.6 L437.0 363.6 L438.0 362.5 L439.0 361.5 L440.0 360.5 L441.0 359.6 L442.0 358.7 L443.0 357.9 L444.0 357.0 L445.0 356.2 L446.0 355.4 L447.0 354.5 L448.0 353.7 L449.0 352.8 L450.0 351.9 L451.0 351.0 L452.0 350.1 L453.0 349.1 L454.0 348.2 L455.0 347.2 L456.0 346.2 L457.0 345.2 L458.0 344.1 L459.0 343.1 L460.0 341.9 L461.0 340.8 L462.0 339.6 L463.0 338.5 L464.0 337.4 L465.0 336.2 L466.0 335.1 L467.0 333.9 L468.0 332.7 L469.0 331.4 L470.0 330.0 L471.0 328.6 L472.0 327.1 L473.0 325.6 L474.0 324.1 L475.0 322.7 L476.0 321.1 L477.0 319.5 L478.0 317.8 L479.0 316.0 L480.0 314.1 L481.0 312.1 L482.0 310.1 L483.0 308.0 L484.0 306.0 L485.0 304.0 L486.0 302.1 L487.0 300.2 L488.0 298.3 L489.0 296.5 L490.0 294.8 L491.0 293.0 L492.0 291.3 L493.0 289.5 L494.0 287.8 L495.0 286.0 L496.0 284.3 L497.0 282.5 L498.0 280.8 L499.0 279.0 L500.0 277.3 L501.0 275.5 L502.0 273.8 L503.0 272.0 L504.0 270.3 L505.0 268.5 L506.0 266.9 L507.0 265.2 L508.0 263.6 L509.0 262.0 L510.0 260.3 L511.0 258.7 L512.0 257.1 L513.0 255.5 L514.0 254.0 L515.0 252.6 L516.0 251.3 L517.0 250.0 L518.0 248.7 L519.0 247.5 L520.0 246.2 L521.0 245.0 L522.0 243.7 L523.0 242.5 L524.0 241.2 L525.0 239.9 L526.0 238.6 L527.0 237.3 L528.0 236.0 L529.0 234.7 L530.0 233.4 L531.0 232.1 L532.0 230.8 L533.0 229.5 L534.0 228.4 L535.0 227.5 L536.0 226.6 L537.0 225.9 L538.0 225.3 L539.0 224.7 L540.0 224.1 L541.0 223.5 L542.0 222.9 L543.0 222.3 L544.0 221.8 L545.0 221.2 L546.0 220.7 L547.0 220.2 L548.0 219.8 L549.0 219.4 L550.0 219.0 L551.0 218.6 L552.0 218.3 L553.0 218.1 L554.0 218.1 L555.0 218.1 L556.0 218.1 L557.0 218.2 L558.0 218.1 L559.0 218.0 L560.0 218.0 L561.0 217.9 L562.0 217.8 L563.0 217.7 L564.0 217.6 L565.0 217.5 L566.0 217.2 L567.0 216.8 L568.0 216.2 L569.0 215.5 L570.0 214.7 L571.0 213.9 L572.0 213.1 L573.0 212.2 L574.0 211.4 L575.0 210.7 L576.0 209.9 L577.0 209.2 L578.0 208.5 L579.0 207.7 L580.0 207.0 L581.0 206.3 L582.0 205.5 L583.0 204.8 L584.0 204.1 L585.0 203.4 L586.0 202.6 L587.0 201.9 L588.0 201.3 L589.0 200.7 L590.0 200.0 L591.0 199.4 L592.0 198.8 L593.0 198.2 L594.0 197.6 L595.0 197.1 L596.0 196.5 L597.0 195.9 L598.0 195.3 L599.0 194.7 L600.0 194.1 L601.0 193.5 L602.0 192.9 L603.0 192.4 L604.0 191.8 L605.0 191.3 L606.0 190.7 L607.0 190.2 L608.0 189.6 L609.0 189.1 L610.0 188.6 L611.0 188.0 L612.0 187.5 L613.0 186.9 L614.0 186.4 L615.0 185.9 L616.0 185.3 L617.0 184.8 L618.0 184.3 L619.0 183.8 L620.0 183.3 L621.0 182.8 L622.0 182.3 L623.0 181.8 L624.0 181.2 L625.0 180.7 L626.0 180.2 L627.0 179.7 L628.0 179.2 L629.0 178.7 L630.0 178.2 L631.0 177.7 L632.0 177.3 L633.0 176.8 L634.0 176.4 L635.0 175.9 L636.0 175.5 L637.0 175.0 L638.0 174.6 L639.0 174.1 L640.0 173.7 L641.0 173.2 L642.0 172.8 L643.0 172.4 L644.0 172.0 L645.0 171.6 L646.0 171.3 L647.0 171.1 L648.0 170.8 L649.0 170.6 L650.0 170.4 L651.0 170.2 L652.0 170.0 L653.0 169.8 L654.0 169.6 L655.0 169.4 L656.0 169.1 L657.0 168.9 L658.0 168.7 L659.0 168.5 L660.0 168.3 L661.0 168.1 L662.0 167.8 L663.0 167.6 L664.0 167.4 L665.0 167.1 L666.0 166.9 L667.0 166.5 L668.0 166.1 L669.0 165.7 L670.0 165.1 L671.0 164.6 L672.0 164.0 L673.0 163.4 L674.0 162.8 L675.0 162.3 L676.0 161.7 L677.0 161.1 L678.0 160.6 L679.0 160.0 L680.0 159.5 L681.0 159.0 L682.0 158.5 L683.0 158.0 L684.0 157.5 L685.0 157.0 L686.0 156.5 L687.0 156.0 L688.0 155.5 L689.0 155.0 L690.0 154.5 L691.0 154.0 L692.0 153.5 L693.0 153.0 L694.0 152.5 L695.0 152.1 L696.0 151.7 L697.0 151.3 L698.0 150.9 L699.0 150.5 L700.0 150.2 L701.0 149.8 L702.0 149.4 L703.0 149.1 L704.0 148.7 L705.0 148.3 L706.0 148.0 L707.0 147.6 L708.0 147.3 L709.0 147.0 L710.0 146.7 L711.0 146.4 L712.0 146.2 L713.0 145.9 L714.0 145.6 L715.0 145.3 L716.0 145.0 L717.0 144.8 L718.0 144.7 L719.0 144.6 L720.0 144.5 L721.0 144.5 L722.0 144.5 L723.0 144.5 L724.0 144.5 L725.0 144.5 L726.0 144.5 L727.0 144.5 L728.0 144.5 L729.0 144.5 L730.0 144.5 L731.0 144.6 L732.0 144.9 L733.0 145.2 L734.0 145.7 L735.0 146.4 L736.0 147.2 L737.0 148.0 L738.0 148.8 L739.0 149.7 L740.0 150.5 L741.0 151.3 L742.0 152.2 L743.0 153.1 L744.0 154.0 L745.0 155.0 L746.0 156.1 L747.0 157.2 L748.0 158.4 L749.0 159.5 L750.0 160.7 L751.0 161.8 L752.0 163.0 L753.0 164.1 L754.0 165.2 L755.0 166.3 L756.0 167.3 L757.0 168.3 L758.0 169.3 L759.0 170.3 L760.0 171.3 L761.0 172.3 L762.0 173.3 L763.0 174.3 L764.0 175.3 L765.0 176.3 L766.0 177.3 L767.0 178.3 L768.0 179.3 L769.0 180.3 L770.0 181.3 L771.0 182.3 L772.0 183.2 L773.0 184.2 L774.0 185.1 L775.0 185.9 L776.0 186.7 L777.0 187.6 L778.0 188.4 L779.0 189.2 L780.0 190.1 L781.0 190.8 L782.0 191.5 L783.0 192.1 L784.0 192.7 L785.0 193.1 L786.0 193.6 L787.0 194.0 L788.0 194.5 L789.0 194.9 L790.0 195.3 L791.0 195.8 L792.0 196.2 L793.0 196.7 L794.0 197.1 L795.0 197.6 L796.0 198.1 L797.0 198.7 L798.0 199.2 L799.0 199.7 L800.0 200.1 L801.0 200.5 L802.0 200.8 L803.0 201.0 L804.0 201.3 L805.0 201.5 L806.0 201.7 L807.0 202.0 L808.0 202.2 L809.0 202.4 L810.0 202.6 L811.0 202.8 L812.0 203.1 L813.0 203.3 L814.0 203.5 L815.0 203.7 L816.0 203.8 L817.0 203.8 L818.0 203.8 L819.0 203.6 L820.0 203.5 L821.0 203.4 L822.0 203.2 L823.0 203.1 L824.0 203.0 L825.0 202.8 L826.0 202.6 L827.0 202.4 L828.0 202.2 L829.0 202.0 L830.0 201.8 L831.0 201.6 L832.0 201.4 L833.0 201.2 L834.0 201.0 L835.0 200.8 L836.0 200.6 L837.0 200.4 L838.0 200.1 L839.0 199.8 L840.0 199.4 L841.0 199.1 L842.0 198.7 L843.0 198.3 L844.0 198.0 L845.0 197.6 L846.0 197.3 L847.0 196.9 L848.0 196.6 L849.0 196.2 L850.0 195.8 L851.0 195.5 L852.0 195.1 L853.0 194.7 L854.0 194.3 L855.0 193.9 L856.0 193.4 L857.0 193.0 L858.0 192.6 L859.0 192.1 L860.0 191.7 L861.0 191.2 L862.0 190.8 L863.0 190.4 L864.0 189.9 L865.0 189.5 L866.0 189.1 L867.0 188.7 L868.0 188.3 L869.0 187.9 L870.0 187.5 L871.0 187.1 L872.0 186.8 L873.0 186.4 L874.0 186.1 L875.0 185.7 L876.0 185.3 L877.0 185.0 L878.0 184.6 L879.0 184.2 L880.0 183.9 L881.0 183.5 L882.0 183.0 L883.0 182.6 L884.0 182.2 L885.0 181.8 L886.0 181.3 L887.0 180.9 L888.0 180.5 L889.0 180.0 L890.0 179.5 L891.0 178.9 L892.0 178.3 L893.0 177.6 L894.0 177.0 L895.0 176.4 L896.0 175.9 L897.0 175.6 L898.0 175.3 L899.0 175.2 L900.0 175.1 L901.0 175.0 L902.0 174.9 L903.0 174.8 L904.0 174.7 L905.0 174.6 L906.0 174.6 L907.0 174.5 L908.0 174.4 L909.0 174.3 L910.0 174.1 L911.0 174.0 L912.0 173.8 L913.0 173.5 L914.0 173.3 L915.0 173.1 L916.0 172.9 L917.0 172.7 L918.0 172.4 L919.0 172.2 L920.0 171.9 L921.0 171.6 L922.0 171.2 L923.0 170.8 L924.0 170.4 L925.0 170.0 L926.0 169.6 L927.0 169.2 L928.0 168.8 L929.0 168.4 L930.0 168.0 L931.0 167.6 L932.0 167.2 L933.0 166.8 L934.0 166.4 L935.0 166.0 L936.0 165.6 L937.0 165.2 L938.0 164.8 L939.0 164.3 L940.0 163.8 L941.0 163.2 L942.0 162.6 L943.0 161.9 L944.0 161.2 L945.0 160.5 L946.0 159.8 L947.0 159.1 L948.0 158.4 L949.0 157.7 L950.0 157.1 L951.0 156.4 L952.0 155.7 L953.0 155.0 L954.0 154.3 L955.0 153.6 L956.0 152.9 L957.0 152.2 L958.0 151.5 L959.0 150.8 L960.0 150.1 L961.0 149.4 L962.0 148.7 L963.0 148.0 L964.0 147.3 L965.0 146.6 L966.0 145.9 L967.0 145.2 L968.0 144.5 L969.0 143.8 L970.0 143.2 L971.0 142.5 L972.0 141.8 L973.0 141.1 L974.0 140.4 L975.0 139.7 L976.0 139.0 L977.0 138.3 L978.0 137.6 L979.0 136.9 L980.0 136.3 L981.0 135.6 L982.0 135.0 L983.0 134.4 L984.0 133.8 L985.0 133.2 L986.0 132.6 L987.0 132.0 L988.0 131.4 L989.0 130.8 L990.0 130.2 L991.0 129.6 L992.0 129.0 L993.0 128.4 L994.0 127.8 L995.0 127.3 L996.0 126.8 L997.0 126.3 L998.0 125.9 L999.0 125.5 L1000.0 125.1 L1001.0 124.7 L1002.0 124.3 L1003.0 123.9 L1004.0 123.5 L1005.0 123.1 L1006.0 122.7 L1007.0 122.3 L1008.0 121.9 L1009.0 121.5 L1010.0 121.1 L1011.0 120.6 L1012.0 120.2 L1013.0 119.8 L1014.0 119.3 L1015.0 118.9 L1016.0 118.5 L1017.0 118.0 L1018.0 117.6 L1019.0 117.1 L1020.0 116.7 L1021.0 116.2 L1022.0 115.8 L1023.0 115.4 L1024.0 114.9 L1025.0 114.6 L1026.0 114.3 L1027.0 114.0 L1028.0 113.8 L1029.0 113.7 L1030.0 113.5 L1031.0 113.4 L1032.0 113.2 L1033.0 113.1 L1034.0 112.9 L1035.0 112.8 L1036.0 112.6 L1037.0 112.5 L1038.0 112.5 L1039.0 112.5 L1040.0 112.6 L1041.0 112.7 L1042.0 112.8 L1043.0 112.9 L1044.0 113.1 L1045.0 113.2 L1046.0 113.4 L1047.0 113.5 L1048.0 113.6 L1049.0 113.8 L1050.0 113.9 L1051.0 114.0 L1052.0 114.1 L1053.0 114.3" stroke="#00ff00" stroke-width="1" fill="none" shape-rendering="crispEdges"/>
<path d="M0.0 505.0 L1.0 505.8 L2.0 506.0 L3.0 506.5 L4.0 507.0 L5.0 507.5 L6.0 508.0 L7.0 508.5 L8.0 509.0 L9.0 509.5 L10.0 510.1 L11.0 510.6 L12.0 511.2 L13.0 511.8 L14.0 512.4 L15.0 513.0 L16.0 513.6 L17.0 514.2 L18.0 514.8 L19.0 515.4 L20.0 516.1 L21.0 516.8 L22.0 517.6 L23.0 518.4 L24.0 519.1 L25.0 519.7 L26.0 520.2 L27.0 520.5 L28.0 520.8 L29.0 521.1 L30.0 521.3 L31.0 521.6 L32.0 521.9 L33.0 522.1 L34.0 522.4 L35.0 522.7 L36.0 522.9 L37.0 523.2 L38.0 523.5 L39.0 523.7 L40.0 523.9 L41.0 524.0 L42.0 524.1 L43.0 524.1 L44.0 524.2 L45.0 524.2 L46.0 524.3 L47.0 524.4 L48.0 524.4 L49.0 524.5 L50.0 524.5 L51.0 524.5 L52.0 524.6 L53.0 524.6 L54.0 524.7 L55.0 524.8 L56.0 524.8 L57.0 524.9 L58.0 524.9 L59.0 524.9 L60.0 524.9 L61.0 524.8 L62.0 524.7 L63.0 524.5 L64.0 524.4 L65.0 524.2 L66.0 524.1 L67.0 524.0 L68.0 523.8 L69.0 523.6 L70.0 523.5 L71.0 523.4 L72.0 523.2 L73.0 523.0 L74.0 522.9 L75.0 522.8 L76.0 522.6 L77.0 522.5 L78.0 522.3 L79.0 522.2 L80.0 522.0 L81.0 521.9 L82.0 521.7 L83.0 521.6 L84.0 521.4 L85.0 521.3 L86.0 521.1 L87.0 521.0 L88.0 520.9 L89.0 520.7 L90.0 520.6 L91.0 520.4 L92.0 520.3 L93.0 520.2 L94.0 520.2 L95.0 520.3 L96.0 520.5 L97.0 520.8 L98.0 521.0 L99.0 521.2 L100.0 521.5 L101.0 521.8 L102.0 522.0 L103.0 522.2 L104.0 522.5 L105.0 522.8 L106.0 523.0 L107.0 523.2 L108.0 523.5 L109.0 523.7 L110.0 524.0 L111.0 524.2 L112.0 524.4 L113.0 524.6 L114.0 524.9 L115.0 525.1 L116.0 525.3 L117.0 525.5 L118.0 525.7 L119.0 525.9 L120.0 526.1 L121.0 526.4 L122.0 526.6 L123.0 526.7 L124.0 526.8 L125.0 526.9 L126.0 526.9 L127.0 526.8 L128.0 526.8 L129.0 526.7 L130.0 526.6 L131.0 526.6 L132.0 526.5 L133.0 526.4 L134.0 526.4 L135.0 526.3 L136.0 526.2 L137.0 526.2 L138.0 526.1 L139.0 526.0 L140.0 525.9 L141.0 525.7 L142.0 525.5 L143.0 525.2 L144.0 525.0 L145.0 524.8 L146.0 524.5 L147.0 524.2 L148.0 524.0 L149.0 523.8 L150.0 523.5 L151.0 523.2 L152.0 523.0 L153.0 522.8 L154.0 522.5 L155.0 522.2 L156.0 522.0 L157.0 521.8 L158.0 521.5 L159.0 521.3 L160.0 521.1 L161.0 521.0 L162.0 520.9 L163.0 520.9 L164.0 520.8 L165.0 520.8 L166.0 520.7 L167.0 520.6 L168.0 520.6 L169.0 520.5 L170.0 520.5 L171.0 520.5 L172.0 520.4 L173.0 520.4 L174.0 520.3 L175.0 520.2 L176.0 520.2 L177.0 520.1 L178.0 520.1 L179.0 520.0 L180.0 519.9 L181.0 519.8 L182.0 519.7 L183.0 519.5 L184.0 519.4 L185.0 519.2 L186.0 519.1 L187.0 519.0 L188.0 518.8 L189.0 518.6 L190.0 518.4 L191.0 518.2 L192.0 518.0 L193.0 517.8 L194.0 517.5 L195.0 517.3 L196.0 517.0 L197.0 516.8 L198.0 516.5 L199.0 516.3 L200.0 516.0 L201.0 515.8 L202.0 515.5 L203.0 515.3 L204.0 515.0 L205.0 514.6 L206.0 514.3 L207.0 513.9 L208.0 513.5 L209.0 513.1 L210.0 512.7 L211.0 512.3 L212.0 511.8 L213.0 511.4 L214.0 511.0 L215.0 510.6 L216.0 510.2 L217.0 509.8 L218.0 509.4 L219.0 508.9 L220.0 508.5 L221.0 508.0 L222.0 507.5 L223.0 507.0 L224.0 506.5 L225.0 506.0 L226.0 505.4 L227.0 504.8 L228.0 504.2 L229.0 503.4 L230.0 502.7 L231.0 501.9 L232.0 501.2 L233.0 500.4 L234.0 499.6 L235.0 498.8 L236.0 498.0 L237.0 497.2 L238.0 496.4 L239.0 495.5 L240.0 494.6 L241.0 493.7 L242.0 492.7 L243.0 491.7 L244.0 490.7 L245.0 489.7 L246.0 488.6 L247.0 487.5 L248.0 486.3 L249.0 485.0 L250.0 483.6 L251.0 482.0 L252.0 480.4 L253.0 478.6 L254.0 476.9 L255.0 475.1 L256.0 473.3 L257.0 471.4 L258.0 469.2 L259.0 467.0 L260.0 464.9 L261.0 462.7 L262.0 460.8 L263.0 459.1 L264.0 457.3 L265.0 455.6 L266.0 453.8 L267.0 452.1 L268.0 450.3 L269.0 448.6 L270.0 446.8 L271.0 445.2 L272.0 443.6 L273.0 442.2 L274.0 441.0 L275.0 439.9 L276.0 438.9 L277.0 437.9 L278.0 436.9 L279.0 436.0 L280.0 435.1 L281.0 434.3 L282.0 433.6 L283.0 433.0 L284.0 432.4 L285.0 431.9 L286.0 431.3 L287.0 430.7 L288.0 430.1 L289.0 429.6 L290.0 429.0 L291.0 428.4 L292.0 427.8 L293.0 427.2 L294.0 426.7 L295.0 426.1 L296.0 425.5 L297.0 424.9 L298.0 424.3 L299.0 423.6 L300.0 423.0 L301.0 422.3 L302.0 421.6 L303.0 420.8 L304.0 420.1 L305.0 419.4 L306.0 418.7 L307.0 418.0 L308.0 417.3 L309.0 416.5 L310.0 415.8 L311.0 415.1 L312.0 414.3 L313.0 413.6 L314.0 412.8 L315.0 412.1 L316.0 411.3 L317.0 410.5 L318.0 409.8 L319.0 409.0 L320.0 408.3 L321.0 407.5 L322.0 406.8 L323.0 406.0 L324.0 405.3 L325.0 404.5 L326.0 403.8 L327.0 403.0 L328.0 402.3 L329.0 401.6 L330.0 400.9 L331.0 400.2 L332.0 399.6 L333.0 398.9 L334.0 398.3 L335.0 397.6 L336.0 397.0 L337.0 396.3 L338.0 395.7 L339.0 395.1 L340.0 394.4 L341.0 393.8 L342.0 393.1 L343.0 392.5 L344.0 391.9 L345.0 391.3 L346.0 390.6 L347.0 390.0 L348.0 389.4 L349.0 388.8 L350.0 388.1 L351.0 387.5 L352.0 386.8 L353.0 386.2 L354.0 385.6 L355.0 384.9 L356.0 384.3 L357.0 383.6 L358.0 383.0 L359.0 382.3 L360.0 381.7 L361.0 381.0 L362.0 380.4 L363.0 379.8 L364.0 379.2 L365.0 378.6 L366.0 378.1 L367.0 377.5 L368.0 377.0 L369.0 376.4 L370.0 375.8 L371.0 375.3 L372.0 374.7 L373.0 374.1 L374.0 373.6 L375.0 373.0 L376.0 372.4 L377.0 371.9 L378.0 371.3 L379.0 370.7 L380.0 370.2 L381.0 369.6 L382.0 369.1 L383.0 368.6 L384.0 368.1 L385.0 367.6 L386.0 367.2 L387.0 366.7 L388.0 366.3 L389.0 365.8 L390.0 365.3 L391.0 364.7 L392.0 364.0 L393.0 363.4 L394.0 362.7 L395.0 362.0 L396.0 361.3 L397.0 360.7 L398.0 360.0 L399.0 359.3 L400.0 358.6 L401.0 358.0 L402.0 357.3 L403.0 356.7 L404.0 356.1 L405.0 355.5 L406.0 354.9 L407.0 354.4 L408.0 353.9 L409.0 353.3 L410.0 352.8 L411.0 352.2 L412.0 351.6 L413.0 351.1 L414.0 350.5 L415.0 350.0 L416.0 349.4 L417.0 348.9 L418.0 348.3 L419.0 347.7 L420.0 347.2 L421.0 346.6 L422.0 346.0 L423.0 345.5 L424.0 344.8 L425.0 344.2 L426.0 343.4 L427.0 342.6 L428.0 341.7 L429.0 340.9 L430.0 340.0 L431.0 339.1 L432.0 338.2 L433.0 337.3 L434.0 336.4 L435.0 335.4 L436.0 334.4 L437.0 333.3 L438.0 332.2 L439.0 331.0 L440.0 329.8 L441.0 328.7 L442.0 327.5 L443.0 326.3 L444.0 325.1 L445.0 323.9 L446.0 322.7 L447.0 321.4 L448.0 320.2 L449.0 319.0 L450.0 317.7 L451.0 316.5 L452.0 315.3 L453.0 314.1 L454.0 312.8 L455.0 311.6 L456.0 310.5 L457.0 309.3 L458.0 308.1 L459.0 307.0 L460.0 305.8 L461.0 304.6 L462.0 303.5 L463.0 302.3 L464.0 301.2 L465.0 300.0 L466.0 298.8 L467.0 297.6 L468.0 296.3 L469.0 294.9 L470.0 293.4 L471.0 291.7 L472.0 290.0 L473.0 288.3 L474.0 286.6 L475.0 284.8 L476.0 283.1 L477.0 281.4 L478.0 279.7 L479.0 278.0 L480.0 276.2 L481.0 274.5 L482.0 272.8 L483.0 270.8 L484.0 268.4 L485.0 265.4 L486.0 261.9 L487.0 257.9 L488.0 253.5 L489.0 249.1 L490.0 245.0 L491.0 241.4 L492.0 238.1 L493.0 235.3 L494.0 232.9 L495.0 230.7 L496.0 228.4 L497.0 226.2 L498.0 224.0 L499.0 221.8 L500.0 219.9 L501.0 218.1 L502.0 216.4 L503.0 215.0 L504.0 213.7 L505.0 212.3 L506.0 211.0 L507.0 209.6 L508.0 208.3 L509.0 207.0 L510.0 205.6 L511.0 204.3 L512.0 202.9 L513.0 201.6 L514.0 200.1 L515.0 198.7 L516.0 197.1 L517.0 195.6 L518.0 194.0 L519.0 192.5 L520.0 191.2 L521.0 189.9 L522.0 188.8 L523.0 187.9 L524.0 186.9 L525.0 185.9 L526.0 185.0 L527.0 184.1 L528.0 183.2 L529.0 182.3 L530.0 181.5 L531.0 180.6 L532.0 179.7 L533.0 178.8 L534.0 177.8 L535.0 176.8 L536.0 175.9 L537.0 175.2 L538.0 174.6 L539.0 174.1 L540.0 173.7 L541.0 173.4 L542.0 173.0 L543.0 172.7 L544.0 172.3 L545.0 172.0 L546.0 171.8 L547.0 171.7 L548.0 171.7 L549.0 171.7 L550.0 171.8 L551.0 172.0 L552.0 172.2 L553.0 172.4 L554.0 172.8 L555.0 173.2 L556.0 173.6 L557.0 174.0 L558.0 174.3 L559.0 174.7 L560.0 175.0 L561.0 175.3 L562.0 175.6 L563.0 175.9 L564.0 176.2 L565.0 176.5 L566.0 176.8 L567.0 177.1 L568.0 177.3 L569.0 177.5 L570.0 177.7 L571.0 177.8 L572.0 177.8 L573.0 177.7 L574.0 177.5 L575.0 177.2 L576.0 176.8 L577.0 176.4 L578.0 175.9 L579.0 175.3 L580.0 174.6 L581.0 173.9 L582.0 173.1 L583.0 172.4 L584.0 171.6 L585.0 170.8 L586.0 170.0 L587.0 169.1 L588.0 168.1 L589.0 167.1 L590.0 166.1 L591.0 165.3 L592.0 164.5 L593.0 163.9 L594.0 163.4 L595.0 162.9 L596.0 162.5 L597.0 162.0 L598.0 161.6 L599.0 161.1 L600.0 160.7 L601.0 160.2 L602.0 159.8 L603.0 159.3 L604.0 158.7 L605.0 158.1 L606.0 157.5 L607.0 156.7 L608.0 156.0 L609.0 155.3 L610.0 154.6 L611.0 153.9 L612.0 153.2 L613.0 152.4 L614.0 151.8 L615.0 151.3 L616.0 150.8 L617.0 150.4 L618.0 150.2 L619.0 149.9 L620.0 149.6 L621.0 149.3 L622.0 149.0 L623.0 148.7 L624.0 148.5 L625.0 148.1 L626.0 147.8 L627.0 147.4 L628.0 146.9 L629.0 146.4 L630.0 145.9 L631.0 145.4 L632.0 144.9 L633.0 144.4 L634.0 143.9 L635.0 143.4 L636.0 143.0 L637.0 142.8 L638.0 142.6 L639.0 142.6 L640.0 142.7 L641.0 142.8 L642.0 142.9 L643.0 143.0 L644.0 143.1 L645.0 143.2 L646.0 143.4 L647.0 143.5 L648.0 143.7 L649.0 143.9 L650.0 144.0 L651.0 144.2 L652.0 144.3 L653.0 144.5 L654.0 144.6 L655.0 144.6 L656.0 144.7 L657.0 144.7 L658.0 144.7 L659.0 144.7 L660.0 144.6 L661.0 144.4 L662.0 144.2 L663.0 144.0 L664.0 143.8 L665.0 143.5 L666.0 143.2 L667.0 142.9 L668.0 142.4 L669.0 141.8 L670.0 141.2 L671.0 140.5 L672.0 139.7 L673.0 139.0 L674.0 138.3 L675.0 137.6 L676.0 136.9 L677.0 136.2 L678.0 135.5 L679.0 134.9 L680.0 134.3 L681.0 133.8 L682.0 133.3 L683.0 132.8 L684.0 132.3 L685.0 131.8 L686.0 131.3 L687.0 130.8 L688.0 130.3 L689.0 129.8 L690.0 129.3 L691.0 128.9 L692.0 128.5 L693.0 128.2 L694.0 127.9 L695.0 127.6 L696.0 127.3 L697.0 127.1 L698.0 126.8 L699.0 126.5 L700.0 126.2 L701.0 125.9 L702.0 125.5 L703.0 125.1 L704.0 124.6 L705.0 124.0 L706.0 123.5 L707.0 123.0 L708.0 122.6 L709.0 122.3 L710.0 122.2 L711.0 122.1 L712.0 122.1 L713.0 122.1 L714.0 122.1 L715.0 122.1 L716.0 122.1 L717.0 122.1 L718.0 122.1 L719.0 122.1 L720.0 122.2 L721.0 122.3 L722.0 122.4 L723.0 122.7 L724.0 123.0 L725.0 123.2 L726.0 123.5 L727.0 123.8 L728.0 124.1 L729.0 124.5 L730.0 125.0 L731.0 125.7 L732.0 126.6 L733.0 127.6 L734.0 128.7 L735.0 129.9 L736.0 131.3 L737.0 132.9 L738.0 134.7 L739.0 136.6 L740.0 138.8 L741.0 141.0 L742.0 143.2 L743.0 145.4 L744.0 147.6 L745.0 149.9 L746.0 152.1 L747.0 154.2 L748.0 156.1 L749.0 158.0 L750.0 159.7 L751.0 161.5 L752.0 163.4 L753.0 165.4 L754.0 167.6 L755.0 169.9 L756.0 172.3 L757.0 174.6 L758.0 176.9 L759.0 179.3 L760.0 181.6 L761.0 183.8 L762.0 185.8 L763.0 187.8 L764.0 189.6 L765.0 191.4 L766.0 193.1 L767.0 194.9 L768.0 196.8 L769.0 198.7 L770.0 200.6 L771.0 202.6 L772.0 204.4 L773.0 206.2 L774.0 207.9 L775.0 209.5 L776.0 211.0 L777.0 212.5 L778.0 213.9 L779.0 215.2 L780.0 216.4 L781.0 217.5 L782.0 218.5 L783.0 219.5 L784.0 220.4 L785.0 221.1 L786.0 221.6 L787.0 222.0 L788.0 222.2 L789.0 222.4 L790.0 222.8 L791.0 223.2 L792.0 223.7 L793.0 224.3 L794.0 224.9 L795.0 225.5 L796.0 226.1 L797.0 226.8 L798.0 227.4 L799.0 227.9 L800.0 228.2 L801.0 228.5 L802.0 228.7 L803.0 228.7 L804.0 228.7 L805.0 228.8 L806.0 228.8 L807.0 228.9 L808.0 228.9 L809.0 229.0 L810.0 229.0 L811.0 229.1 L812.0 229.0 L813.0 228.8 L814.0 228.6 L815.0 228.2 L816.0 227.9 L817.0 227.4 L818.0 227.0 L819.0 226.4 L820.0 225.7 L821.0 225.0 L822.0 224.2 L823.0 223.4 L824.0 222.6 L825.0 221.8 L826.0 221.0 L827.0 220.3 L828.0 219.5 L829.0 218.8 L830.0 218.0 L831.0 217.3 L832.0 216.6 L833.0 216.1 L834.0 215.6 L835.0 215.1 L836.0 214.7 L837.0 214.2 L838.0 213.6 L839.0 212.9 L840.0 212.0 L841.0 211.1 L842.0 210.2 L843.0 209.3 L844.0 208.3 L845.0 207.3 L846.0 206.2 L847.0 205.1 L848.0 204.0 L849.0 203.0 L850.0 202.2 L851.0 201.5 L852.0 200.9 L853.0 200.4 L854.0 199.8 L855.0 199.1 L856.0 198.2 L857.0 197.3 L858.0 196.4 L859.0 195.4 L860.0 194.4 L861.0 193.4 L862.0 192.3 L863.0 191.1 L864.0 189.8 L865.0 188.6 L866.0 187.3 L867.0 186.1 L868.0 185.3 L869.0 184.6 L870.0 184.2 L871.0 184.1 L872.0 183.8 L873.0 183.4 L874.0 182.9 L875.0 182.1 L876.0 181.2 L877.0 180.4 L878.0 179.5 L879.0 178.5 L880.0 177.5 L881.0 176.5 L882.0 175.5 L883.0 174.5 L884.0 173.6 L885.0 172.8 L886.0 172.0 L887.0 171.2 L888.0 170.3 L889.0 169.5 L890.0 168.8 L891.0 168.0 L892.0 167.3 L893.0 166.6 L894.0 165.9 L895.0 165.3 L896.0 164.8 L897.0 164.4 L898.0 164.2 L899.0 164.1 L900.0 164.0 L901.0 164.0 L902.0 164.0 L903.0 164.0 L904.0 164.1 L905.0 164.2 L906.0 164.4 L907.0 164.6 L908.0 164.7 L909.0 164.8 L910.0 164.8 L911.0 164.7 L912.0 164.5 L913.0 164.2 L914.0 163.9 L915.0 163.6 L916.0 163.2 L917.0 162.9 L918.0 162.6 L919.0 162.3 L920.0 161.9 L921.0 161.6 L922.0 161.2 L923.0 160.8 L924.0 160.4 L925.0 160.0 L926.0 159.6 L927.0 159.2 L928.0 158.8 L929.0 158.4 L930.0 157.9 L931.0 157.4 L932.0 156.8 L933.0 156.2 L934.0 155.6 L935.0 155.0 L936.0 154.4 L937.0 153.8 L938.0 153.2 L939.0 152.6 L940.0 151.9 L941.0 151.1 L942.0 150.3 L943.0 149.5 L944.0 148.7 L945.0 147.8 L946.0 147.0 L947.0 146.2 L948.0 145.3 L949.0 144.5 L950.0 143.7 L951.0 142.8 L952.0 142.0 L953.0 141.2 L954.0 140.3 L955.0 139.5 L956.0 138.7 L957.0 137.8 L958.0 136.8 L959.0 135.7 L960.0 134.5 L961.0 133.2 L962.0 132.0 L963.0 130.8 L964.0 129.5 L965.0 128.2 L966.0 127.0 L967.0 125.8 L968.0 124.5 L969.0 123.3 L970.0 122.2 L971.0 121.1 L972.0 120.1 L973.0 119.2 L974.0 118.2 L975.0 117.3 L976.0 116.4 L977.0 115.4 L978.0 114.5 L979.0 113.5 L980.0 112.6 L981.0 111.7 L982.0 110.8 L983.0 109.9 L984.0 109.0 L985.0 108.1 L986.0 107.2 L987.0 106.4 L988.0 105.5 L989.0 104.8 L990.0 104.0 L991.0 103.3 L992.0 102.6 L993.0 101.9 L994.0 101.2 L995.0 100.6 L996.0 100.1 L997.0 99.7 L998.0 99.3 L999.0 99.0 L1000.0 98.7 L1001.0 98.5 L1002.0 98.2 L1003.0 97.9 L1004.0 97.6 L1005.0 97.4 L1006.0 97.2 L1007.0 97.0 L1008.0 96.7 L1009.0 96.5 L1010.0 96.3 L1011.0 96.1 L1012.0 95.9 L1013.0 95.6 L1014.0 95.3 L1015.0 95.0 L1016.0 94.6 L1017.0 94.1 L1018.0 93.6 L1019.0 93.1 L1020.0 92.7 L1021.0 92.3 L1022.0 92.0 L1023.0 91.8 L1024.0 91.6 L1025.0 91.4 L1026.0 91.2 L1027.0 91.0 L1028.0 90.9 L1029.0 90.8 L1030.0 90.8 L1031.0 90.8 L1032.0 90.7 L1033.0 90.7 L1034.0 90.7 L1035.0 90.7 L1036.0 90.8 L1037.0 91.0 L1038.0 91.4 L1039.0 91.8 L1040.0 92.3 L1041.0 92.8 L1042.0 93.3 L1043.0 93.8 L1044.0 94.4 L1045.0 94.9 L1046.0 95.5 L1047.0 96.1 L1048.0 96.7 L1049.0 97.3 L1050.0 97.9 L1051.0 98.4 L1052.0 98.7 L1053.0 99.5" stroke="#008000" stroke-width="1" fill="none" shape-rendering="crispEdges"/>
<path d="M0.0 511.0 L1.0 511.8 L2.0 512.0 L3.0 512.5 L4.0 513.0 L5.0 513.5 L6.0 514.0 L7.0 514.5 L8.0 515.0 L9.0 515.6 L10.0 516.3 L11.0 517.1 L12.0 518.0 L13.0 519.0 L14.0 520.0 L15.0 521.0 L16.0 522.0 L17.0 523.0 L18.0 524.0 L19.0 525.0 L20.0 525.9 L21.0 526.7 L22.0 527.5 L23.0 528.1 L24.0 528.7 L25.0 529.1 L26.0 529.4 L27.0 529.6 L28.0 529.8 L29.0 530.0 L30.0 530.2 L31.0 530.4 L32.0 530.6 L33.0 530.8 L34.0 531.0 L35.0 531.2 L36.0 531.3 L37.0 531.5 L38.0 531.7 L39.0 531.8 L40.0 531.8 L41.0 531.8 L42.0 531.8 L43.0 531.7 L44.0 531.6 L45.0 531.5 L46.0 531.4 L47.0 531.3 L48.0 531.2 L49.0 531.1 L50.0 530.9 L51.0 530.7 L52.0 530.4 L53.0 530.1 L54.0 529.8 L55.0 529.5 L56.0 529.2 L57.0 528.9 L58.0 528.6 L59.0 528.3 L60.0 528.1 L61.0 527.8 L62.0 527.6 L63.0 527.4 L64.0 527.2 L65.0 527.0 L66.0 526.8 L67.0 526.6 L68.0 526.4 L69.0 526.2 L70.0 525.9 L71.0 525.7 L72.0 525.4 L73.0 525.1 L74.0 524.8 L75.0 524.5 L76.0 524.2 L77.0 523.9 L78.0 523.6 L79.0 523.3 L80.0 523.1 L81.0 522.9 L82.0 522.8 L83.0 522.7 L84.0 522.6 L85.0 522.5 L86.0 522.4 L87.0 522.3 L88.0 522.2 L89.0 522.1 L90.0 522.1 L91.0 522.0 L92.0 522.0 L93.0 522.0 L94.0 522.0 L95.0 522.1 L96.0 522.2 L97.0 522.3 L98.0 522.6 L99.0 522.9 L100.0 523.1 L101.0 523.4 L102.0 523.7 L103.0 524.0 L104.0 524.3 L105.0 524.6 L106.0 524.9 L107.0 525.1 L108.0 525.4 L109.0 525.7 L110.0 526.0 L111.0 526.3 L112.0 526.6 L113.0 526.9 L114.0 527.2 L115.0 527.5 L116.0 527.8 L117.0 528.1 L118.0 528.4 L119.0 528.6 L120.0 528.8 L121.0 528.9 L122.0 529.0 L123.0 529.0 L124.0 529.0 L125.0 529.0 L126.0 529.0 L127.0 529.0 L128.0 529.0 L129.0 529.0 L130.0 528.9 L131.0 528.8 L132.0 528.6 L133.0 528.4 L134.0 528.2 L135.0 528.0 L136.0 527.8 L137.0 527.6 L138.0 527.4 L139.0 527.2 L140.0 527.0 L141.0 526.7 L142.0 526.5 L143.0 526.2 L144.0 526.0 L145.0 525.8 L146.0 525.5 L147.0 525.2 L148.0 525.0 L149.0 524.8 L150.0 524.5 L151.0 524.2 L152.0 524.0 L153.0 523.6 L154.0 523.3 L155.0 523.0 L156.0 522.7 L157.0 522.3 L158.0 522.0 L159.0 521.7 L160.0 521.3 L161.0 521.0 L162.0 520.7 L163.0 520.4 L164.0 520.2 L165.0 520.1 L166.0 520.0 L167.0 520.0 L168.0 520.0 L169.0 520.0 L170.0 520.0 L171.0 520.0 L172.0 520.0 L173.0 520.0 L174.0 520.0 L175.0 520.0 L176.0 519.9 L177.0 519.8 L178.0 519.6 L179.0 519.4 L180.0 519.2 L181.0 519.0 L182.0 518.8 L183.0 518.5 L184.0 518.3 L185.0 518.1 L186.0 517.9 L187.0 517.7 L188.0 517.5 L189.0 517.3 L190.0 517.0 L191.0 516.8 L192.0 516.5 L193.0 516.2 L194.0 515.9 L195.0 515.6 L196.0 515.3 L197.0 515.0 L198.0 514.7 L199.0 514.4 L200.0 514.1 L201.0 513.8 L202.0 513.6 L203.0 513.2 L204.0 512.9 L205.0 512.5 L206.0 512.1 L207.0 511.7 L208.0 511.3 L209.0 510.8 L210.0 510.4 L211.0 510.0 L212.0 509.6 L213.0 509.2 L214.0 508.8 L215.0 508.4 L216.0 508.0 L217.0 507.6 L218.0 507.1 L219.0 506.6 L220.0 505.9 L221.0 505.1 L222.0 504.2 L223.0 503.2 L224.0 502.2 L225.0 501.2 L226.0 500.2 L227.0 499.3 L228.0 498.4 L229.0 497.4 L230.0 496.6 L231.0 495.7 L232.0 494.8 L233.0 493.8 L234.0 492.9 L235.0 491.8 L236.0 490.8 L237.0 489.6 L238.0 488.5 L239.0 487.4 L240.0 486.2 L241.0 485.0 L242.0 483.7 L243.0 482.4 L244.0 481.1 L245.0 479.7 L246.0 478.3 L247.0 476.9 L248.0 475.4 L249.0 473.8 L250.0 471.9 L251.0 469.8 L252.0 467.5 L253.0 465.0 L254.0 462.6 L255.0 460.3 L256.0 458.1 L257.0 456.1 L258.0 454.1 L259.0 452.0 L260.0 449.7 L261.0 447.3 L262.0 444.7 L263.0 442.0 L264.0 439.2 L265.0 436.7 L266.0 434.4 L267.0 432.4 L268.0 430.6 L269.0 429.1 L270.0 427.7 L271.0 426.4 L272.0 425.0 L273.0 423.7 L274.0 422.6 L275.0 421.7 L276.0 420.9 L277.0 420.3 L278.0 419.7 L279.0 419.1 L280.0 418.5 L281.0 417.9 L282.0 417.3 L283.0 416.7 L284.0 416.2 L285.0 415.6 L286.0 415.0 L287.0 414.4 L288.0 413.7 L289.0 413.1 L290.0 412.5 L291.0 411.9 L292.0 411.3 L293.0 410.6 L294.0 410.0 L295.0 409.3 L296.0 408.6 L297.0 408.0 L298.0 407.3 L299.0 406.7 L300.0 406.0 L301.0 405.4 L302.0 404.8 L303.0 404.2 L304.0 403.6 L305.0 403.0 L306.0 402.4 L307.0 401.8 L308.0 401.2 L309.0 400.7 L310.0 400.1 L311.0 399.6 L312.0 399.0 L313.0 398.5 L314.0 398.0 L315.0 397.5 L316.0 397.0 L317.0 396.4 L318.0 395.8 L319.0 395.0 L320.0 394.1 L321.0 393.1 L322.0 392.2 L323.0 391.2 L324.0 390.4 L325.0 389.6 L326.0 389.0 L327.0 388.4 L328.0 387.9 L329.0 387.4 L330.0 386.9 L331.0 386.3 L332.0 385.8 L333.0 385.1 L334.0 384.5 L335.0 383.8 L336.0 383.1 L337.0 382.3 L338.0 381.6 L339.0 380.9 L340.0 380.2 L341.0 379.6 L342.0 378.9 L343.0 378.2 L344.0 377.6 L345.0 376.9 L346.0 376.3 L347.0 375.6 L348.0 375.0 L349.0 374.3 L350.0 373.7 L351.0 373.1 L352.0 372.4 L353.0 371.8 L354.0 371.3 L355.0 370.7 L356.0 370.2 L357.0 369.7 L358.0 369.1 L359.0 368.6 L360.0 368.1 L361.0 367.5 L362.0 367.0 L363.0 366.5 L364.0 365.9 L365.0 365.4 L366.0 364.8 L367.0 364.3 L368.0 363.7 L369.0 363.2 L370.0 362.6 L371.0 362.0 L372.0 361.5 L373.0 360.9 L374.0 360.4 L375.0 359.8 L376.0 359.2 L377.0 358.7 L378.0 358.1 L379.0 357.7 L380.0 357.3 L381.0 357.1 L382.0 357.0 L383.0 357.0 L384.0 357.0 L385.0 357.0 L386.0 357.0 L387.0 357.0 L388.0 356.8 L389.0 356.5 L390.0 356.1 L391.0 355.5 L392.0 354.7 L393.0 353.9 L394.0 353.2 L395.0 352.4 L396.0 351.7 L397.0 350.9 L398.0 350.1 L399.0 349.4 L400.0 348.7 L401.0 348.0 L402.0 347.3 L403.0 346.7 L404.0 346.1 L405.0 345.5 L406.0 344.8 L407.0 344.2 L408.0 343.6 L409.0 342.9 L410.0 342.3 L411.0 341.7 L412.0 341.0 L413.0 340.4 L414.0 339.8 L415.0 339.2 L416.0 338.5 L417.0 337.9 L418.0 337.2 L419.0 336.5 L420.0 335.7 L421.0 334.9 L422.0 334.0 L423.0 333.1 L424.0 332.3 L425.0 331.4 L426.0 330.5 L427.0 329.6 L428.0 328.7 L429.0 327.8 L430.0 326.8 L431.0 325.9 L432.0 324.8 L433.0 323.8 L434.0 322.8 L435.0 321.8 L436.0 320.7 L437.0 319.6 L438.0 318.4 L439.0 317.2 L440.0 315.9 L441.0 314.6 L442.0 313.2 L443.0 311.9 L444.0 310.5 L445.0 309.2 L446.0 307.8 L447.0 306.5 L448.0 305.1 L449.0 303.8 L450.0 302.4 L451.0 301.1 L452.0 299.7 L453.0 298.4 L454.0 297.1 L455.0 295.8 L456.0 294.5 L457.0 293.3 L458.0 292.1 L459.0 290.9 L460.0 289.7 L461.0 288.5 L462.0 287.3 L463.0 286.1 L464.0 284.9 L465.0 283.7 L466.0 282.4 L467.0 281.0 L468.0 279.7 L469.0 278.2 L470.0 276.8 L471.0 275.3 L472.0 273.9 L473.0 272.4 L474.0 271.0 L475.0 269.4 L476.0 267.5 L477.0 265.3 L478.0 262.8 L479.0 260.0 L480.0 257.0 L481.0 253.9 L482.0 250.5 L483.0 247.0 L484.0 243.3 L485.0 239.4 L486.0 235.5 L487.0 231.5 L488.0 227.8 L489.0 224.3 L490.0 221.2 L491.0 218.3 L492.0 215.8 L493.0 213.3 L494.0 210.8 L495.0 208.3 L496.0 205.8 L497.0 203.3 L498.0 201.1 L499.0 198.9 L500.0 196.8 L501.0 194.9 L502.0 193.0 L503.0 191.2 L504.0 189.3 L505.0 187.4 L506.0 185.5 L507.0 183.6 L508.0 181.8 L509.0 180.1 L510.0 178.5 L511.0 177.2 L512.0 176.0 L513.0 175.0 L514.0 174.0 L515.0 173.0 L516.0 172.0 L517.0 171.0 L518.0 170.0 L519.0 169.0 L520.0 168.0 L521.0 167.0 L522.0 166.0 L523.0 165.0 L524.0 164.0 L525.0 163.0 L526.0 162.1 L527.0 161.2 L528.0 160.4 L529.0 159.6 L530.0 158.8 L531.0 158.0 L532.0 157.2 L533.0 156.4 L534.0 155.6 L535.0 155.0 L536.0 154.5 L537.0 154.2 L538.0 154.0 L539.0 154.0 L540.0 154.0 L541.0 154.0 L542.0 154.0 L543.0 154.0 L544.0 154.0 L545.0 154.0 L546.0 154.0 L547.0 154.2 L548.0 154.4 L549.0 154.9 L550.0 155.5 L551.0 156.2 L552.0 157.0 L553.0 157.8 L554.0 158.5 L555.0 159.3 L556.0 160.1 L557.0 161.0 L558.0 161.9 L559.0 162.9 L560.0 163.9 L561.0 164.9 L562.0 165.8 L563.0 166.8 L564.0 167.8 L565.0 168.6 L566.0 169.2 L567.0 169.7 L568.0 169.9 L569.0 170.0 L570.0 170.0 L571.0 170.0 L572.0 170.0 L573.0 170.0 L574.0 169.9 L575.0 169.6 L576.0 168.9 L577.0 168.0 L578.0 166.8 L579.0 165.4 L580.0 164.0 L581.0 162.6 L582.0 161.2 L583.0 160.0 L584.0 158.8 L585.0 157.8 L586.0 157.0 L587.0 156.2 L588.0 155.3 L589.0 154.5 L590.0 153.8 L591.0 153.1 L592.0 152.5 L593.0 152.0 L594.0 151.6 L595.0 151.2 L596.0 150.8 L597.0 150.4 L598.0 150.0 L599.0 149.5 L600.0 149.0 L601.0 148.5 L602.0 147.9 L603.0 147.3 L604.0 146.6 L605.0 146.0 L606.0 145.4 L607.0 144.9 L608.0 144.3 L609.0 143.8 L610.0 143.3 L611.0 142.8 L612.0 142.3 L613.0 141.8 L614.0 141.4 L615.0 141.0 L616.0 140.8 L617.0 140.6 L618.0 140.5 L619.0 140.5 L620.0 140.4 L621.0 140.3 L622.0 140.2 L623.0 140.1 L624.0 139.9 L625.0 139.6 L626.0 139.2 L627.0 138.8 L628.0 138.3 L629.0 137.8 L630.0 137.3 L631.0 136.9 L632.0 136.4 L633.0 136.0 L634.0 135.6 L635.0 135.2 L636.0 134.8 L637.0 134.4 L638.0 134.2 L639.0 134.2 L640.0 134.4 L641.0 134.7 L642.0 135.1 L643.0 135.5 L644.0 135.9 L645.0 136.3 L646.0 136.7 L647.0 137.2 L648.0 137.7 L649.0 138.2 L650.0 138.7 L651.0 139.2 L652.0 139.7 L653.0 140.1 L654.0 140.4 L655.0 140.6 L656.0 140.8 L657.0 140.8 L658.0 140.8 L659.0 140.8 L660.0 140.8 L661.0 140.8 L662.0 140.7 L663.0 140.7 L664.0 140.6 L665.0 140.6 L666.0 140.5 L667.0 140.0 L668.0 139.4 L669.0 138.4 L670.0 137.2 L671.0 135.9 L672.0 134.5 L673.0 133.4 L674.0 132.5 L675.0 131.8 L676.0 131.4 L677.0 131.1 L678.0 130.9 L679.0 130.5 L680.0 130.1 L681.0 129.6 L682.0 128.9 L683.0 128.2 L684.0 127.4 L685.0 126.7 L686.0 126.0 L687.0 125.4 L688.0 124.8 L689.0 124.3 L690.0 123.8 L691.0 123.3 L692.0 122.8 L693.0 122.3 L694.0 121.8 L695.0 121.4 L696.0 121.0 L697.0 120.7 L698.0 120.4 L699.0 120.1 L700.0 119.9 L701.0 119.6 L702.0 119.3 L703.0 118.9 L704.0 118.6 L705.0 118.2 L706.0 117.8 L707.0 117.4 L708.0 117.0 L709.0 116.7 L710.0 116.4 L711.0 116.3 L712.0 116.2 L713.0 116.2 L714.0 116.2 L715.0 116.2 L716.0 116.3 L717.0 116.4 L718.0 116.6 L719.0 116.8 L720.0 117.1 L721.0 117.4 L722.0 117.7 L723.0 118.2 L724.0 118.8 L725.0 119.5 L726.0 120.3 L727.0 121.1 L728.0 121.8 L729.0 122.5 L730.0 123.2 L731.0 123.9 L732.0 124.7 L733.0 125.8 L734.0 127.3 L735.0 129.1 L736.0 131.3 L737.0 133.6 L738.0 136.0 L739.0 138.7 L740.0 141.5 L741.0 144.5 L742.0 147.7 L743.0 151.0 L744.0 154.3 L745.0 157.6 L746.0 160.9 L747.0 164.2 L748.0 167.5 L749.0 170.8 L750.0 174.1 L751.0 177.5 L752.0 180.8 L753.0 184.2 L754.0 187.5 L755.0 190.9 L756.0 194.2 L757.0 197.5 L758.0 200.5 L759.0 203.4 L760.0 206.1 L761.0 208.5 L762.0 210.8 L763.0 213.1 L764.0 215.4 L765.0 217.7 L766.0 219.9 L767.0 222.2 L768.0 224.4 L769.0 226.5 L770.0 228.6 L771.0 230.6 L772.0 232.6 L773.0 234.5 L774.0 236.4 L775.0 238.1 L776.0 239.7 L777.0 241.1 L778.0 242.3 L779.0 243.4 L780.0 244.5 L781.0 245.6 L782.0 246.6 L783.0 247.7 L784.0 248.8 L785.0 249.7 L786.0 250.3 L787.0 250.8 L788.0 251.0 L789.0 251.0 L790.0 251.0 L791.0 251.0 L792.0 251.0 L793.0 251.0 L794.0 251.0 L795.0 251.0 L796.0 251.0 L797.0 251.0 L798.0 251.0 L799.0 251.0 L800.0 251.0 L801.0 250.9 L802.0 250.7 L803.0 250.3 L804.0 249.8 L805.0 249.3 L806.0 248.7 L807.0 248.1 L808.0 247.5 L809.0 246.9 L810.0 246.4 L811.0 245.8 L812.0 245.2 L813.0 244.6 L814.0 244.0 L815.0 243.5 L816.0 242.8 L817.0 241.9 L818.0 240.9 L819.0 239.7 L820.0 238.3 L821.0 236.9 L822.0 235.4 L823.0 233.9 L824.0 232.4 L825.0 230.9 L826.0 229.3 L827.0 227.7 L828.0 226.0 L829.0 224.4 L830.0 222.8 L831.0 221.5 L832.0 220.4 L833.0 219.5 L834.0 218.8 L835.0 218.2 L836.0 217.6 L837.0 216.9 L838.0 216.1 L839.0 215.2 L840.0 214.3 L841.0 213.3 L842.0 212.3 L843.0 211.2 L844.0 210.1 L845.0 208.8 L846.0 207.5 L847.0 206.1 L848.0 204.7 L849.0 203.2 L850.0 201.8 L851.0 200.3 L852.0 198.8 L853.0 197.2 L854.0 195.7 L855.0 194.2 L856.0 192.9 L857.0 191.6 L858.0 190.4 L859.0 189.3 L860.0 188.0 L861.0 186.5 L862.0 185.0 L863.0 183.3 L864.0 181.8 L865.0 180.3 L866.0 179.0 L867.0 177.9 L868.0 177.1 L869.0 176.6 L870.0 176.2 L871.0 176.0 L872.0 175.7 L873.0 175.3 L874.0 174.6 L875.0 173.8 L876.0 172.8 L877.0 171.8 L878.0 170.8 L879.0 169.7 L880.0 168.6 L881.0 167.4 L882.0 166.1 L883.0 164.8 L884.0 163.5 L885.0 162.3 L886.0 161.2 L887.0 160.2 L888.0 159.3 L889.0 158.6 L890.0 157.8 L891.0 157.1 L892.0 156.4 L893.0 155.7 L894.0 155.1 L895.0 154.7 L896.0 154.5 L897.0 154.4 L898.0 154.4 L899.0 154.5 L900.0 154.5 L901.0 154.6 L902.0 154.7 L903.0 154.8 L904.0 154.9 L905.0 155.1 L906.0 155.4 L907.0 155.6 L908.0 155.9 L909.0 156.1 L910.0 156.2 L911.0 156.3 L912.0 156.3 L913.0 156.2 L914.0 156.2 L915.0 156.2 L916.0 156.1 L917.0 155.9 L918.0 155.7 L919.0 155.3 L920.0 154.8 L921.0 154.2 L922.0 153.7 L923.0 153.1 L924.0 152.5 L925.0 151.9 L926.0 151.3 L927.0 150.8 L928.0 150.2 L929.0 149.6 L930.0 149.0 L931.0 148.4 L932.0 147.8 L933.0 147.2 L934.0 146.6 L935.0 146.0 L936.0 145.4 L937.0 144.8 L938.0 144.2 L939.0 143.5 L940.0 142.7 L941.0 141.9 L942.0 140.9 L943.0 139.8 L944.0 138.8 L945.0 137.8 L946.0 136.7 L947.0 135.7 L948.0 134.6 L949.0 133.6 L950.0 132.5 L951.0 131.4 L952.0 130.4 L953.0 129.3 L954.0 128.3 L955.0 127.2 L956.0 126.2 L957.0 125.2 L958.0 124.1 L959.0 123.0 L960.0 121.9 L961.0 120.8 L962.0 119.6 L963.0 118.4 L964.0 117.1 L965.0 115.9 L966.0 114.7 L967.0 113.5 L968.0 112.3 L969.0 111.1 L970.0 109.8 L971.0 108.6 L972.0 107.4 L973.0 106.2 L974.0 105.0 L975.0 103.8 L976.0 102.6 L977.0 101.3 L978.0 100.1 L979.0 99.0 L980.0 98.0 L981.0 97.1 L982.0 96.4 L983.0 95.7 L984.0 95.0 L985.0 94.3 L986.0 93.7 L987.0 93.0 L988.0 92.4 L989.0 91.7 L990.0 91.2 L991.0 90.6 L992.0 90.1 L993.0 89.6 L994.0 89.1 L995.0 88.6 L996.0 88.1 L997.0 87.7 L998.0 87.3 L999.0 87.0 L1000.0 86.9 L1001.0 86.8 L1002.0 86.9 L1003.0 87.0 L1004.0 87.0 L1005.0 87.0 L1006.0 87.0 L1007.0 86.9 L1008.0 86.8 L1009.0 86.7 L1010.0 86.5 L1011.0 86.4 L1012.0 86.3 L1013.0 86.0 L1014.0 85.7 L1015.0 85.3 L1016.0 84.9 L1017.0 84.5 L1018.0 84.1 L1019.0 83.6 L1020.0 83.2 L1021.0 82.8 L1022.0 82.4 L1023.0 82.0 L1024.0 81.8 L1025.0 81.7 L1026.0 81.7 L1027.0 81.8 L1028.0 82.0 L1029.0 82.1 L1030.0 82.2 L1031.0 82.3 L1032.0 82.4 L1033.0 82.5 L1034.0 82.5 L1035.0 82.7 L1036.0 83.1 L1037.0 83.7 L1038.0 84.6 L1039.0 85.7 L1040.0 87.0 L1041.0 88.2 L1042.0 89.4 L1043.0 90.4 L1044.0 91.3 L1045.0 92.2 L1046.0 92.9 L1047.0 93.7 L1048.0 94.5 L1049.0 95.2 L1050.0 96.0 L1051.0 96.7 L1052.0 97.0 L1053.0 98.0" stroke="#0000ff" stroke-width="1" fill="none" shape-rendering="crispEdges"/>
<path d="M0.0 523.0 L1.0 524.0 L2.0 524.4 L3.0 525.1 L4.0 525.8 L5.0 526.5 L6.0 527.2 L7.0 527.9 L8.0 528.6 L9.0 529.4 L10.0 530.2 L11.0 531.1 L12.0 532.0 L13.0 533.0 L14.0 534.0 L15.0 535.0 L16.0 536.0 L17.0 537.0 L18.0 538.0 L19.0 539.0 L20.0 540.0 L21.0 541.0 L22.0 542.0 L23.0 543.0 L24.0 543.7 L25.0 544.1 L26.0 544.3 L27.0 544.1 L28.0 543.7 L29.0 543.3 L30.0 542.9 L31.0 542.5 L32.0 542.2 L33.0 541.9 L34.0 541.8 L35.0 541.6 L36.0 541.5 L37.0 541.4 L38.0 541.2 L39.0 541.0 L40.0 540.7 L41.0 540.2 L42.0 539.6 L43.0 538.9 L44.0 538.2 L45.0 537.5 L46.0 536.8 L47.0 536.1 L48.0 535.4 L49.0 534.7 L50.0 534.1 L51.0 533.4 L52.0 532.8 L53.0 532.2 L54.0 531.6 L55.0 531.0 L56.0 530.4 L57.0 529.8 L58.0 529.2 L59.0 528.6 L60.0 528.1 L61.0 527.6 L62.0 527.2 L63.0 526.8 L64.0 526.4 L65.0 526.0 L66.0 525.6 L67.0 525.2 L68.0 524.8 L69.0 524.4 L70.0 524.1 L71.0 523.7 L72.0 523.4 L73.0 523.1 L74.0 522.8 L75.0 522.5 L76.0 522.2 L77.0 521.9 L78.0 521.6 L79.0 521.3 L80.0 521.1 L81.0 520.8 L82.0 520.6 L83.0 520.4 L84.0 520.2 L85.0 520.0 L86.0 519.8 L87.0 519.6 L88.0 519.4 L89.0 519.2 L90.0 519.0 L91.0 518.8 L92.0 518.7 L93.0 518.5 L94.0 518.3 L95.0 518.4 L96.0 518.5 L97.0 518.9 L98.0 519.5 L99.0 520.2 L100.0 521.0 L101.0 521.7 L102.0 522.4 L103.0 523.1 L104.0 523.8 L105.0 524.5 L106.0 525.2 L107.0 525.9 L108.0 526.6 L109.0 527.3 L110.0 527.9 L111.0 528.6 L112.0 529.2 L113.0 529.8 L114.0 530.4 L115.0 531.0 L116.0 531.6 L117.0 532.2 L118.0 532.8 L119.0 533.2 L120.0 533.4 L121.0 533.4 L122.0 533.2 L123.0 532.9 L124.0 532.5 L125.0 532.1 L126.0 531.8 L127.0 531.4 L128.0 531.0 L129.0 530.6 L130.0 530.2 L131.0 529.8 L132.0 529.3 L133.0 528.9 L134.0 528.5 L135.0 528.1 L136.0 527.7 L137.0 527.2 L138.0 526.8 L139.0 526.4 L140.0 526.0 L141.0 525.7 L142.0 525.3 L143.0 525.0 L144.0 524.7 L145.0 524.3 L146.0 524.0 L147.0 523.7 L148.0 523.3 L149.0 523.0 L150.0 522.7 L151.0 522.3 L152.0 522.0 L153.0 521.7 L154.0 521.3 L155.0 521.0 L156.0 520.7 L157.0 520.3 L158.0 520.0 L159.0 519.7 L160.0 519.3 L161.0 519.0 L162.0 518.7 L163.0 518.4 L164.0 518.3 L165.0 518.3 L166.0 518.3 L167.0 518.5 L168.0 518.7 L169.0 518.8 L170.0 519.0 L171.0 519.2 L172.0 519.3 L173.0 519.5 L174.0 519.7 L175.0 519.8 L176.0 519.8 L177.0 519.7 L178.0 519.6 L179.0 519.4 L180.0 519.2 L181.0 519.0 L182.0 518.8 L183.0 518.6 L184.0 518.4 L185.0 518.1 L186.0 517.6 L187.0 516.9 L188.0 516.1 L189.0 515.3 L190.0 514.6 L191.0 514.0 L192.0 513.4 L193.0 513.0 L194.0 512.5 L195.0 512.1 L196.0 511.6 L197.0 511.2 L198.0 510.8 L199.0 510.3 L200.0 509.9 L201.0 509.4 L202.0 508.9 L203.0 508.3 L204.0 507.8 L205.0 507.2 L206.0 506.6 L207.0 506.1 L208.0 505.5 L209.0 504.9 L210.0 504.4 L211.0 503.8 L212.0 503.3 L213.0 502.8 L214.0 502.3 L215.0 501.8 L216.0 501.3 L217.0 500.8 L218.0 500.2 L219.0 499.4 L220.0 498.5 L221.0 497.3 L222.0 496.0 L223.0 494.5 L224.0 493.0 L225.0 491.5 L226.0 490.0 L227.0 488.5 L228.0 487.0 L229.0 485.5 L230.0 484.2 L231.0 483.2 L232.0 482.4 L233.0 481.8 L234.0 481.3 L235.0 480.4 L236.0 479.3 L237.0 477.9 L238.0 476.2 L239.0 474.4 L240.0 472.6 L241.0 470.6 L242.0 468.6 L243.0 466.4 L244.0 464.2 L245.0 462.0 L246.0 459.9 L247.0 458.0 L248.0 456.1 L249.0 454.1 L250.0 452.0 L251.0 449.6 L252.0 447.0 L253.0 444.4 L254.0 441.9 L255.0 439.4 L256.0 437.1 L257.0 434.5 L258.0 431.6 L259.0 428.6 L260.0 425.4 L261.0 422.1 L262.0 419.0 L263.0 416.0 L264.0 413.2 L265.0 410.5 L266.0 407.9 L267.0 405.5 L268.0 403.3 L269.0 401.4 L270.0 399.7 L271.0 398.3 L272.0 397.2 L273.0 396.1 L274.0 395.2 L275.0 394.4 L276.0 393.9 L277.0 393.6 L278.0 393.6 L279.0 393.8 L280.0 393.9 L281.0 394.0 L282.0 394.1 L283.0 394.2 L284.0 394.2 L285.0 394.1 L286.0 393.9 L287.0 393.7 L288.0 393.5 L289.0 393.3 L290.0 393.1 L291.0 392.9 L292.0 392.7 L293.0 392.5 L294.0 392.4 L295.0 392.2 L296.0 392.0 L297.0 391.9 L298.0 391.7 L299.0 391.5 L300.0 391.3 L301.0 391.1 L302.0 390.9 L303.0 390.6 L304.0 390.3 L305.0 390.0 L306.0 389.7 L307.0 389.4 L308.0 389.1 L309.0 388.7 L310.0 388.3 L311.0 387.9 L312.0 387.5 L313.0 387.1 L314.0 386.7 L315.0 386.2 L316.0 385.8 L317.0 385.4 L318.0 384.8 L319.0 384.3 L320.0 383.6 L321.0 382.9 L322.0 382.2 L323.0 381.5 L324.0 380.8 L325.0 380.1 L326.0 379.3 L327.0 378.6 L328.0 377.8 L329.0 377.0 L330.0 376.2 L331.0 375.4 L332.0 374.6 L333.0 373.8 L334.0 372.9 L335.0 372.0 L336.0 371.0 L337.0 370.0 L338.0 369.0 L339.0 368.1 L340.0 367.2 L341.0 366.4 L342.0 365.7 L343.0 365.1 L344.0 364.5 L345.0 363.8 L346.0 363.2 L347.0 362.6 L348.0 361.9 L349.0 361.3 L350.0 360.7 L351.0 360.0 L352.0 359.4 L353.0 358.9 L354.0 358.3 L355.0 357.8 L356.0 357.4 L357.0 356.9 L358.0 356.4 L359.0 355.9 L360.0 355.4 L361.0 354.9 L362.0 354.5 L363.0 354.0 L364.0 353.5 L365.0 353.1 L366.0 352.7 L367.0 352.3 L368.0 351.9 L369.0 351.6 L370.0 351.2 L371.0 350.8 L372.0 350.5 L373.0 350.1 L374.0 349.7 L375.0 349.4 L376.0 349.0 L377.0 348.8 L378.0 348.7 L379.0 348.7 L380.0 348.8 L381.0 349.0 L382.0 349.2 L383.0 349.4 L384.0 349.5 L385.0 349.7 L386.0 349.6 L387.0 349.4 L388.0 349.1 L389.0 348.5 L390.0 347.9 L391.0 347.2 L392.0 346.5 L393.0 345.7 L394.0 345.0 L395.0 344.2 L396.0 343.4 L397.0 342.7 L398.0 341.9 L399.0 341.1 L400.0 340.3 L401.0 339.4 L402.0 338.6 L403.0 337.6 L404.0 336.7 L405.0 335.8 L406.0 334.9 L407.0 334.0 L408.0 333.0 L409.0 332.1 L410.0 331.2 L411.0 330.3 L412.0 329.4 L413.0 328.4 L414.0 327.5 L415.0 326.7 L416.0 326.0 L417.0 325.5 L418.0 325.2 L419.0 325.0 L420.0 324.7 L421.0 324.2 L422.0 323.4 L423.0 322.4 L424.0 321.1 L425.0 319.8 L426.0 318.5 L427.0 317.3 L428.0 316.3 L429.0 315.2 L430.0 314.2 L431.0 313.3 L432.0 312.3 L433.0 311.2 L434.0 310.0 L435.0 308.7 L436.0 307.4 L437.0 305.9 L438.0 304.4 L439.0 302.9 L440.0 300.9 L441.0 298.9 L442.0 296.9 L443.0 294.9 L444.0 292.9 L445.0 291.5 L446.0 290.1 L447.0 288.7 L448.0 287.3 L449.0 285.8 L450.0 284.4 L451.0 283.0 L452.0 281.6 L453.0 280.2 L454.0 278.7 L455.0 277.2 L456.0 275.6 L457.0 273.9 L458.0 272.2 L459.0 270.4 L460.0 268.7 L461.0 266.9 L462.0 265.2 L463.0 263.5 L464.0 261.9 L465.0 260.3 L466.0 258.9 L467.0 257.5 L468.0 256.1 L469.0 254.7 L470.0 253.3 L471.0 251.9 L472.0 250.5 L473.0 249.1 L474.0 247.5 L475.0 245.4 L476.0 243.0 L477.0 240.1 L478.0 236.7 L479.0 232.8 L480.0 228.6 L481.0 224.1 L482.0 219.2 L483.0 214.1 L484.0 209.0 L485.0 204.0 L486.0 199.1 L487.0 194.2 L488.0 189.4 L489.0 185.1 L490.0 181.2 L491.0 177.6 L492.0 174.5 L493.0 172.1 L494.0 169.9 L495.0 168.1 L496.0 166.5 L497.0 165.3 L498.0 164.1 L499.0 162.8 L500.0 161.6 L501.0 160.3 L502.0 158.9 L503.0 157.6 L504.0 156.2 L505.0 154.8 L506.0 153.5 L507.0 152.1 L508.0 150.7 L509.0 149.5 L510.0 148.3 L511.0 147.3 L512.0 146.4 L513.0 145.6 L514.0 144.8 L515.0 144.0 L516.0 143.2 L517.0 142.4 L518.0 141.6 L519.0 140.9 L520.0 140.3 L521.0 139.8 L522.0 139.3 L523.0 139.0 L524.0 138.7 L525.0 138.3 L526.0 138.0 L527.0 137.7 L528.0 137.3 L529.0 137.0 L530.0 136.7 L531.0 136.3 L532.0 136.0 L533.0 135.7 L534.0 135.3 L535.0 135.0 L536.0 134.7 L537.0 134.6 L538.0 134.7 L539.0 135.0 L540.0 135.6 L541.0 136.4 L542.0 137.2 L543.0 138.0 L544.0 138.8 L545.0 139.6 L546.0 140.4 L547.0 141.4 L548.0 142.7 L549.0 144.1 L550.0 145.8 L551.0 147.7 L552.0 149.5 L553.0 151.4 L554.0 153.3 L555.0 155.3 L556.0 157.2 L557.0 159.2 L558.0 161.2 L559.0 163.2 L560.0 165.2 L561.0 167.2 L562.0 169.3 L563.0 171.1 L564.0 172.6 L565.0 173.9 L566.0 174.8 L567.0 175.5 L568.0 176.0 L569.0 176.5 L570.0 176.9 L571.0 176.9 L572.0 176.6 L573.0 176.0 L574.0 175.1 L575.0 173.9 L576.0 172.6 L577.0 171.2 L578.0 169.7 L579.0 168.1 L580.0 166.5 L581.0 164.9 L582.0 163.3 L583.0 161.7 L584.0 160.1 L585.0 158.5 L586.0 156.8 L587.0 155.1 L588.0 153.4 L589.0 151.7 L590.0 149.9 L591.0 148.2 L592.0 146.7 L593.0 145.5 L594.0 144.6 L595.0 143.9 L596.0 143.5 L597.0 143.1 L598.0 142.7 L599.0 142.3 L600.0 141.9 L601.0 141.3 L602.0 140.7 L603.0 140.0 L604.0 139.3 L605.0 138.5 L606.0 137.8 L607.0 136.9 L608.0 136.0 L609.0 135.1 L610.0 134.1 L611.0 133.1 L612.0 132.2 L613.0 131.6 L614.0 131.3 L615.0 131.2 L616.0 131.4 L617.0 131.7 L618.0 132.0 L619.0 132.3 L620.0 132.5 L621.0 132.6 L622.0 132.5 L623.0 132.3 L624.0 131.9 L625.0 131.5 L626.0 131.1 L627.0 130.7 L628.0 130.3 L629.0 129.8 L630.0 129.2 L631.0 128.7 L632.0 128.1 L633.0 127.4 L634.0 126.9 L635.0 126.6 L636.0 126.4 L637.0 126.4 L638.0 126.8 L639.0 127.3 L640.0 128.0 L641.0 128.8 L642.0 129.7 L643.0 130.5 L644.0 131.4 L645.0 132.3 L646.0 133.1 L647.0 133.9 L648.0 134.8 L649.0 135.6 L650.0 136.4 L651.0 137.3 L652.0 138.1 L653.0 138.9 L654.0 139.6 L655.0 140.3 L656.0 140.9 L657.0 141.3 L658.0 141.6 L659.0 141.8 L660.0 141.9 L661.0 141.8 L662.0 141.7 L663.0 141.6 L664.0 141.6 L665.0 141.5 L666.0 141.2 L667.0 140.5 L668.0 139.4 L669.0 137.8 L670.0 135.7 L671.0 133.5 L672.0 131.5 L673.0 129.8 L674.0 128.3 L675.0 127.0 L676.0 125.7 L677.0 124.5 L678.0 123.4 L679.0 122.3 L680.0 121.2 L681.0 120.3 L682.0 119.3 L683.0 118.4 L684.0 117.4 L685.0 116.5 L686.0 115.6 L687.0 114.6 L688.0 113.8 L689.0 113.1 L690.0 112.5 L691.0 112.1 L692.0 111.9 L693.0 111.8 L694.0 111.6 L695.0 111.5 L696.0 111.4 L697.0 111.3 L698.0 111.2 L699.0 111.1 L700.0 110.9 L701.0 110.8 L702.0 110.6 L703.0 110.4 L704.0 110.1 L705.0 109.8 L706.0 109.5 L707.0 109.2 L708.0 108.9 L709.0 108.8 L710.0 108.8 L711.0 109.1 L712.0 109.5 L713.0 110.1 L714.0 110.7 L715.0 111.3 L716.0 111.9 L717.0 112.4 L718.0 113.0 L719.0 113.5 L720.0 114.1 L721.0 114.6 L722.0 115.1 L723.0 115.7 L724.0 116.6 L725.0 117.7 L726.0 118.9 L727.0 120.4 L728.0 121.9 L729.0 123.5 L730.0 125.3 L731.0 127.4 L732.0 129.7 L733.0 132.3 L734.0 135.5 L735.0 139.2 L736.0 143.3 L737.0 147.8 L738.0 152.7 L739.0 157.5 L740.0 162.4 L741.0 167.6 L742.0 173.0 L743.0 178.6 L744.0 184.2 L745.0 189.7 L746.0 195.0 L747.0 200.0 L748.0 205.0 L749.0 210.0 L750.0 214.9 L751.0 219.7 L752.0 224.4 L753.0 229.1 L754.0 233.5 L755.0 237.7 L756.0 241.6 L757.0 245.3 L758.0 248.8 L759.0 252.2 L760.0 255.6 L761.0 259.0 L762.0 262.4 L763.0 265.8 L764.0 269.2 L765.0 272.3 L766.0 275.2 L767.0 277.7 L768.0 280.0 L769.0 282.0 L770.0 284.0 L771.0 286.0 L772.0 288.0 L773.0 290.0 L774.0 292.0 L775.0 293.8 L776.0 295.4 L777.0 296.8 L778.0 298.0 L779.0 299.0 L780.0 299.6 L781.0 299.8 L782.0 299.6 L783.0 299.0 L784.0 298.0 L785.0 296.6 L786.0 294.8 L787.0 292.9 L788.0 290.8 L789.0 288.5 L790.0 286.6 L791.0 284.9 L792.0 283.1 L793.0 281.4 L794.0 279.7 L795.0 278.0 L796.0 276.2 L797.0 274.5 L798.0 272.7 L799.0 270.9 L800.0 269.1 L801.0 267.4 L802.0 265.7 L803.0 264.1 L804.0 262.5 L805.0 261.1 L806.0 259.8 L807.0 258.5 L808.0 257.1 L809.0 255.8 L810.0 254.4 L811.0 252.9 L812.0 251.4 L813.0 249.8 L814.0 248.2 L815.0 246.6 L816.0 244.9 L817.0 243.2 L818.0 241.2 L819.0 239.0 L820.0 236.4 L821.0 233.6 L822.0 230.6 L823.0 227.6 L824.0 224.7 L825.0 221.8 L826.0 219.0 L827.0 216.3 L828.0 213.7 L829.0 211.3 L830.0 209.3 L831.0 207.7 L832.0 206.4 L833.0 205.6 L834.0 204.8 L835.0 203.9 L836.0 202.9 L837.0 201.8 L838.0 200.5 L839.0 199.1 L840.0 197.6 L841.0 196.2 L842.0 194.9 L843.0 193.6 L844.0 192.2 L845.0 190.9 L846.0 189.5 L847.0 188.1 L848.0 186.7 L849.0 185.3 L850.0 183.9 L851.0 182.5 L852.0 181.0 L853.0 179.6 L854.0 178.2 L855.0 176.8 L856.0 175.4 L857.0 173.9 L858.0 172.5 L859.0 171.0 L860.0 169.4 L861.0 167.8 L862.0 166.1 L863.0 164.4 L864.0 162.8 L865.0 161.3 L866.0 159.9 L867.0 158.8 L868.0 158.0 L869.0 157.5 L870.0 157.3 L871.0 157.3 L872.0 157.2 L873.0 157.0 L874.0 156.6 L875.0 156.0 L876.0 155.3 L877.0 154.5 L878.0 153.8 L879.0 152.9 L880.0 151.9 L881.0 150.8 L882.0 149.6 L883.0 148.3 L884.0 146.9 L885.0 145.6 L886.0 144.3 L887.0 143.0 L888.0 142.0 L889.0 141.0 L890.0 140.1 L891.0 139.4 L892.0 138.6 L893.0 137.9 L894.0 137.5 L895.0 137.4 L896.0 137.6 L897.0 138.2 L898.0 138.9 L899.0 139.7 L900.0 140.4 L901.0 141.3 L902.0 142.2 L903.0 143.1 L904.0 144.1 L905.0 145.2 L906.0 146.2 L907.0 147.3 L908.0 148.3 L909.0 149.2 L910.0 150.0 L911.0 150.7 L912.0 151.2 L913.0 151.6 L914.0 152.1 L915.0 152.6 L916.0 153.1 L917.0 153.3 L918.0 153.3 L919.0 153.0 L920.0 152.4 L921.0 151.6 L922.0 150.8 L923.0 150.0 L924.0 149.2 L925.0 148.3 L926.0 147.5 L927.0 146.7 L928.0 145.9 L929.0 145.1 L930.0 144.3 L931.0 143.5 L932.0 142.7 L933.0 141.8 L934.0 140.8 L935.0 139.6 L936.0 138.3 L937.0 136.8 L938.0 135.3 L939.0 133.8 L940.0 132.4 L941.0 130.9 L942.0 129.6 L943.0 128.2 L944.0 126.9 L945.0 125.5 L946.0 124.2 L947.0 122.9 L948.0 121.6 L949.0 120.3 L950.0 119.0 L951.0 117.7 L952.0 116.5 L953.0 115.3 L954.0 114.1 L955.0 112.9 L956.0 111.7 L957.0 110.4 L958.0 109.1 L959.0 107.7 L960.0 106.3 L961.0 104.8 L962.0 103.3 L963.0 101.8 L964.0 100.3 L965.0 98.7 L966.0 97.2 L967.0 95.7 L968.0 94.1 L969.0 92.6 L970.0 91.2 L971.0 89.9 L972.0 88.6 L973.0 87.3 L974.0 86.1 L975.0 84.8 L976.0 83.4 L977.0 82.1 L978.0 80.7 L979.0 79.5 L980.0 78.5 L981.0 77.7 L982.0 77.0 L983.0 76.5 L984.0 76.0 L985.0 75.6 L986.0 75.1 L987.0 74.7 L988.0 74.4 L989.0 74.1 L990.0 73.8 L991.0 73.5 L992.0 73.2 L993.0 73.0 L994.0 72.9 L995.0 73.0 L996.0 73.1 L997.0 73.5 L998.0 73.8 L999.0 74.2 L1000.0 74.5 L1001.0 74.9 L1002.0 75.2 L1003.0 75.6 L1004.0 76.0 L1005.0 76.3 L1006.0 76.6 L1007.0 77.0 L1008.0 77.3 L1009.0 77.6 L1010.0 77.9 L1011.0 78.2 L1012.0 78.3 L1013.0 78.3 L1014.0 78.1 L1015.0 77.8 L1016.0 77.3 L1017.0 76.8 L1018.0 76.4 L1019.0 75.9 L1020.0 75.5 L1021.0 75.1 L1022.0 74.7 L1023.0 74.3 L1024.0 74.0 L1025.0 74.0 L1026.0 74.2 L1027.0 74.6 L1028.0 75.3 L1029.0 76.1 L1030.0 76.7 L1031.0 77.3 L1032.0 77.7 L1033.0 78.1 L1034.0 78.6 L1035.0 79.3 L1036.0 80.2 L1037.0 81.4 L1038.0 82.9 L1039.0 84.5 L1040.0 86.4 L1041.0 88.4 L1042.0 90.4 L1043.0 92.4 L1044.0 94.4 L1045.0 96.4 L1046.0 98.3 L1047.0 100.0 L1048.0 101.4 L1049.0 102.6 L1050.0 103.6 L1051.0 104.3 L1052.0 104.7 L1053.0 105.5" stroke="#ff0000" stroke-width="1" fill="none" shape-rendering="crispEdges"/>
<path d="M558 50.5H1214M558 385.5H1214M0 569.5H1214" stroke="#0000ff" stroke-width="1" fill="none" shape-rendering="crispEdges"/>
<path d="M558 166.5H1214M558 204.5H1214M558 268.5H1214" stroke="#0000ff" stroke-width="1" stroke-dasharray="3 3" fill="none" shape-rendering="crispEdges"/>
<path d="M1049.5 166L1074.6 81.4M1110.4 266.7L1159.6 82.8M1193.6 165.2L1204.6 26.9" stroke="#008000" fill="none" shape-rendering="crispEdges"/>
<path d="M1076.2 83.2L1108.4 265.4M1159.2 86L1190.8 165.8" stroke="#ff0000" fill="none" shape-rendering="crispEdges"/>
<path d="M1214.5 0V622.5 M0 622.5H1215 M40.5 623V636 M143.5 623V636 M247.5 623V636 M349.5 623V636 M452.5 623V636 M554.5 623V636 M656.5 623V636 M759.5 623V636 M863.5 623V636 M966.5 623V636 M1068.5 623V636 M1171.5 623V636 M6.5 623V627 M14.5 623V627 M22.5 623V627 M32.5 623V627 M48.5 623V627 M56.5 623V627 M65.5 623V627 M73.5 623V627 M83.5 623V627 M91.5 623V627 M99.5 623V627 M109.5 623V627 M116.5 623V627 M124.5 623V627 M135.5 623V627 M152.5 623V627 M160.5 623V627 M168.5 623V627 M176.5 623V627 M186.5 623V627 M193.5 623V627 M201.5 623V627 M211.5 623V627 M219.5 623V627 M229.5 623V627 M237.5 623V627 M255.5 623V627 M263.5 623V627 M271.5 623V627 M281.5 623V627 M289.5 623V627 M297.5 623V627 M307.5 623V627 M315.5 623V627 M323.5 623V627 M331.5 623V627 M341.5 623V627 M357.5 623V627 M365.5 623V627 M373.5 623V627 M383.5 623V627 M391.5 623V627 M399.5 623V627 M408.5 623V627 M416.5 623V627 M426.5 623V627 M434.5 623V627 M441.5 623V627 M460.5 623V627 M468.5 623V627 M476.5 623V627 M486.5 623V627 M494.5 623V627 M502.5 623V627 M512.5 623V627 M520.5 623V627 M528.5 623V627 M536.5 623V627 M546.5 623V627 M562.5 623V627 M570.5 623V627 M580.5 623V627 M588.5 623V627 M596.5 623V627 M605.5 623V627 M613.5 623V627 M623.5 623V627 M631.5 623V627 M639.5 623V627 M648.5 623V627 M664.5 623V627 M672.5 623V627 M682.5 623V627 M690.5 623V627 M698.5 623V627 M708.5 623V627 M716.5 623V627 M724.5 623V627 M733.5 623V627 M741.5 623V627 M751.5 623V627 M769.5 623V627 M777.5 623V627 M785.5 623V627 M793.5 623V627 M803.5 623V627 M811.5 623V627 M820.5 623V627 M828.5 623V627 M836.5 623V627 M846.5 623V627 M853.5 623V627 M871.5 623V627 M879.5 623V627 M889.5 623V627 M897.5 623V627 M905.5 623V627 M914.5 623V627 M922.5 623V627 M930.5 623V627 M940.5 623V627 M948.5 623V627 M956.5 623V627 M973.5 623V627 M981.5 623V627 M989.5 623V627 M1000.5 623V627 M1007.5 623V627 M1015.5 623V627 M1025.5 623V627 M1033.5 623V627 M1043.5 623V627 M1051.5 623V627 M1059.5 623V627 M1076.5 623V627 M1084.5 623V627 M1094.5 623V627 M1102.5 623V627 M1110.5 623V627 M1120.5 623V627 M1128.5 623V627 M1137.5 623V627 M1145.5 623V627 M1153.5 623V627 M1163.5 623V627 M1179.5 623V627 M1187.5 623V627 M1196.5 623V627 M1204.5 623V627 M1215 620.5H1220 M1215 573.5H1217 M1215 534.5H1217 M1215 500.5H1217 M1215 470.5H1217 M1215 443.5H1220 M1215 419.5H1217 M1215 396.5H1217 M1215 376.5H1217 M1215 357.5H1217 M1215 340.5H1220 M1215 323.5H1217 M1215 308.5H1217 M1215 293.5H1217 M1215 279.5H1217 M1215 266.5H1220 M1215 254.5H1217 M1215 242.5H1217 M1215 231.5H1217 M1215 220.5H1217 M1215 209.5H1220 M1215 199.5H1217 M1215 190.5H1217 M1215 180.5H1217 M1215 171.5H1217 M1215 163.5H1220 M1215 154.5H1217 M1215 146.5H1217 M1215 138.5H1217 M1215 131.5H1217 M1215 123.5H1220 M1215 116.5H1217 M1215 109.5H1217 M1215 102.5H1217 M1215 96.5H1217 M1215 89.5H1220 M1215 83.5H1217 M1215 77.5H1217 M1215 71.5H1217 M1215 65.5H1217 M1215 59.5H1220 M1215 54.5H1217 M1215 48.5H1217 M1215 43.5H1217 M1215 38.5H1217 M1215 32.5H1220 M1215 27.5H1217 M1215 22.5H1217 M1215 18.5H1217 M1215 13.5H1217 M1215 8.5H1220" stroke="#000" stroke-width="1" fill="none" shape-rendering="crispEdges"/>
<text x="40.6" y="635" font-size="10" textLength="20.4" lengthAdjust="spacingAndGlyphs" fill="#000">2002</text>
<text x="143.6" y="635" font-size="10" textLength="20.4" lengthAdjust="spacingAndGlyphs" fill="#000">2003</text>
<text x="247.6" y="635" font-size="10" textLength="20.4" lengthAdjust="spacingAndGlyphs" fill="#000">2004</text>
<text x="349.6" y="635" font-size="10" textLength="20.4" lengthAdjust="spacingAndGlyphs" fill="#000">2005</text>
<text x="452.6" y="635" font-size="10" textLength="20.4" lengthAdjust="spacingAndGlyphs" fill="#000">2006</text>
<text x="554.6" y="635" font-size="10" textLength="20.4" lengthAdjust="spacingAndGlyphs" fill="#000">2007</text>
<text x="656.6" y="635" font-size="10" textLength="20.4" lengthAdjust="spacingAndGlyphs" fill="#000">2008</text>
<text x="759.6" y="635" font-size="10" textLength="20.4" lengthAdjust="spacingAndGlyphs" fill="#000">2009</text>
<text x="863.6" y="635" font-size="10" textLength="20.4" lengthAdjust="spacingAndGlyphs" fill="#000">2010</text>
<text x="966.6" y="635" font-size="10" textLength="20.4" lengthAdjust="spacingAndGlyphs" fill="#000">2011</text>
<text x="1068.6" y="635" font-size="10" textLength="20.4" lengthAdjust="spacingAndGlyphs" fill="#000">2012</text>
<text x="1171.6" y="635" font-size="10" textLength="20.4" lengthAdjust="spacingAndGlyphs" fill="#000">2013</text>
<text x="1232.8" y="448" font-size="9.4" textLength="15.2" lengthAdjust="spacingAndGlyphs" fill="#000">100</text>
<text x="1232.8" y="345" font-size="9.4" textLength="15.2" lengthAdjust="spacingAndGlyphs" fill="#000">150</text>
<text x="1232.8" y="271" font-size="9.4" textLength="15.2" lengthAdjust="spacingAndGlyphs" fill="#000">200</text>
<text x="1232.8" y="214" font-size="9.4" textLength="15.2" lengthAdjust="spacingAndGlyphs" fill="#000">250</text>
<text x="1232.8" y="168" font-size="9.4" textLength="15.2" lengthAdjust="spacingAndGlyphs" fill="#000">300</text>
<text x="1232.8" y="128" font-size="9.4" textLength="15.2" lengthAdjust="spacingAndGlyphs" fill="#000">350</text>
<text x="1232.8" y="94" font-size="9.4" textLength="15.2" lengthAdjust="spacingAndGlyphs" fill="#000">400</text>
<text x="1232.8" y="64" font-size="9.4" textLength="15.2" lengthAdjust="spacingAndGlyphs" fill="#000">450</text>
<text x="1232.8" y="37" font-size="9.4" textLength="15.2" lengthAdjust="spacingAndGlyphs" fill="#000">500</text>
<text x="1232.8" y="13" font-size="9.4" textLength="15.2" lengthAdjust="spacingAndGlyphs" fill="#000">550</text>
<text x="466.8" y="10" font-size="9.4" textLength="280.5" lengthAdjust="spacingAndGlyphs" fill="#000">COPPER FUTURE (360.7000, 362.4000, 331.8000, 347.4000, -9.0000)</text>
<text x="530.6999999999999" y="54" font-size="9.4" textLength="20.6" lengthAdjust="spacingAndGlyphs" fill="#0000ff">0.0%</text>
<text x="526.0999999999999" y="170" font-size="9.4" textLength="25.2" lengthAdjust="spacingAndGlyphs" fill="#0000ff">50.0%</text>
<text x="526.0999999999999" y="208" font-size="9.4" textLength="25.2" lengthAdjust="spacingAndGlyphs" fill="#0000ff">61.8%</text>
<text x="526.0999999999999" y="272" font-size="9.4" textLength="25.2" lengthAdjust="spacingAndGlyphs" fill="#0000ff">78.6%</text>
<text x="521.6999999999999" y="389" font-size="9.4" textLength="29.6" lengthAdjust="spacingAndGlyphs" fill="#0000ff">100.0%</text>
<text x="79.5" y="489" font-size="9.3" textLength="11.4" lengthAdjust="spacingAndGlyphs" fill="#229944">(1)</text>
<text x="111.5" y="568" font-size="9.3" textLength="11.4" lengthAdjust="spacingAndGlyphs" fill="#229944">(2)</text>
<text x="254.5" y="328" font-size="9.3" textLength="11.4" lengthAdjust="spacingAndGlyphs" fill="#229944">(3)</text>
<text x="370.5" y="392" font-size="9.3" textLength="11.4" lengthAdjust="spacingAndGlyphs" fill="#229944">(4)</text>
<text x="480.5" y="77.2" font-size="9.3" textLength="11.4" lengthAdjust="spacingAndGlyphs" fill="#229944">(5)</text>
<text x="750.2" y="409" font-size="9.3" textLength="11.4" lengthAdjust="spacingAndGlyphs" fill="#229944">(a)</text>
<text x="971.5" y="24" font-size="9.3" textLength="11.4" lengthAdjust="spacingAndGlyphs" fill="#229944">(b)</text>
<text x="1099.3" y="293.5" font-size="9.3" textLength="11.4" lengthAdjust="spacingAndGlyphs" fill="#229944">(c)</text>
<text x="1148.5" y="72" font-size="9.3" textLength="11.4" lengthAdjust="spacingAndGlyphs" fill="#229944">(d)</text>
<text x="1180.3" y="176.5" font-size="9.3" textLength="11.4" lengthAdjust="spacingAndGlyphs" fill="#229944">(e)</text>
<text x="559.7" y="236" font-size="9.5" font-weight="bold" textLength="5.6" lengthAdjust="spacingAndGlyphs" fill="#ff00ff">A</text>
<text x="688.4000000000001" y="71" font-size="9.5" font-weight="bold" textLength="6.8" lengthAdjust="spacingAndGlyphs" fill="#ff00ff">B</text>
<text x="754.8000000000001" y="394" font-size="9.5" font-weight="bold" textLength="6.8" lengthAdjust="spacingAndGlyphs" fill="#ff00ff">C</text>
<text x="862.7" y="107" font-size="9.5" font-weight="bold" textLength="5.6" lengthAdjust="spacingAndGlyphs" fill="#ff00ff">A</text>
<text x="903.7" y="195" font-size="9.5" font-weight="bold" textLength="6.8" lengthAdjust="spacingAndGlyphs" fill="#ff00ff">B</text>
<text x="971.7" y="41" font-size="9.5" font-weight="bold" textLength="6.8" lengthAdjust="spacingAndGlyphs" fill="#ff00ff">C</text>
<text x="1073.3" y="68" font-size="9.5" font-weight="bold" textLength="6.8" lengthAdjust="spacingAndGlyphs" fill="#ff00ff">B</text>
<text x="1042.4" y="184" font-size="9.5" font-weight="bold" textLength="5.6" lengthAdjust="spacingAndGlyphs" fill="#ff00ff">A</text>
<text x="1102.1000000000001" y="274" font-size="9.5" font-weight="bold" textLength="6.8" lengthAdjust="spacingAndGlyphs" fill="#ff00ff">C</text>
<circle cx="487.3" cy="56.3" r="6.5" fill="#0000ff"/><text x="484.40000000000003" y="60.9" font-size="13" font-weight="bold" textLength="5.8" lengthAdjust="spacingAndGlyphs" fill="#fff">3</text>
<circle cx="1189.4" cy="203.6" r="6.5" fill="#0000ff"/><text x="1186.5" y="208.2" font-size="13" font-weight="bold" textLength="5.8" lengthAdjust="spacingAndGlyphs" fill="#fff">4</text>
<circle cx="1202" cy="18.4" r="6.5" fill="#0000ff"/><text x="1199.1" y="23.0" font-size="13" font-weight="bold" textLength="5.8" lengthAdjust="spacingAndGlyphs" fill="#fff">5</text>
</svg></body></html>
